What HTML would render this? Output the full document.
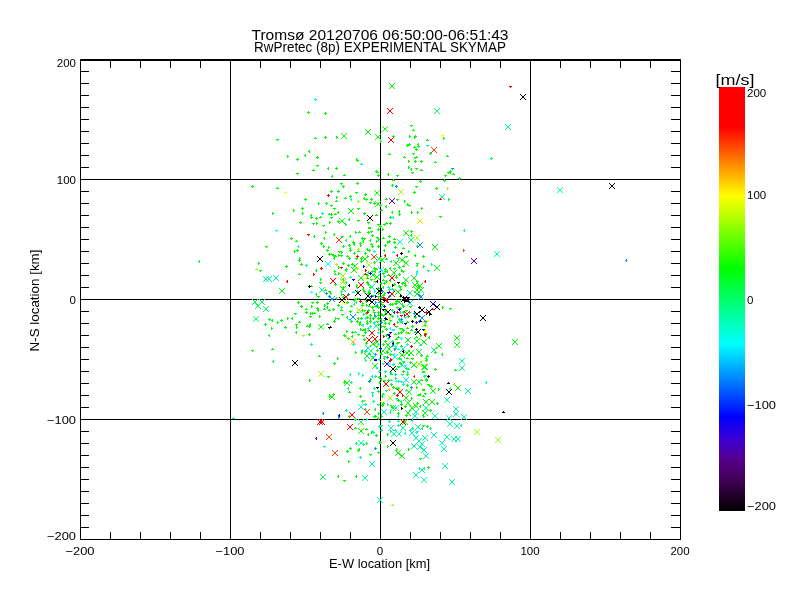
<!DOCTYPE html>
<html><head><meta charset="utf-8"><title>Tromsø skymap</title>
<style>html,body{margin:0;padding:0;background:#fff;width:800px;height:600px;overflow:hidden}svg{display:block}</style>
</head><body>
<svg width="800" height="600" viewBox="0 0 800 600" shape-rendering="crispEdges">
<defs><linearGradient id="cbg" x1="0" y1="0" x2="0" y2="1">
<stop offset="0.0000" stop-color="#ff0000"/>
<stop offset="0.0943" stop-color="#ff0000"/>
<stop offset="0.2571" stop-color="#ffff00"/>
<stop offset="0.4269" stop-color="#00ff00"/>
<stop offset="0.6061" stop-color="#00ffff"/>
<stop offset="0.7783" stop-color="#0000ff"/>
<stop offset="0.8325" stop-color="#3c00d2"/>
<stop offset="0.8797" stop-color="#55008c"/>
<stop offset="0.9269" stop-color="#410055"/>
<stop offset="0.9741" stop-color="#19001e"/>
<stop offset="1.0000" stop-color="#000000"/>
</linearGradient></defs>
<rect x="230" y="61" width="1" height="478"/><rect x="380" y="61" width="1" height="478"/><rect x="530" y="61" width="1" height="478"/><rect x="81" y="179" width="599" height="1"/><rect x="81" y="299" width="599" height="1"/><rect x="81" y="419" width="599" height="1"/>
<g><path fill="#00ff00" d="M308 111h1v1h1v1h-1v1h-1v-1h-1v-1h1zM325 112h1v1h1v1h-1v1h-1v-1h-1v-1h1zM276 139h3v1h-1v1h-1v-1h-1zM315 137h1v1h1v1h-3v-1h1zM325 136h1v1h1v1h-1v1h-1v-1h-1v-1h1zM309 150h1v3h-1v-1h-1v-1h1zM287 155h1v1h1v1h-1v1h-1zM297 158h1v1h1v1h-1v1h-1v-1h-1v-1h1zM305 154h1v3h-1v-1h-1v-1h1zM317 156h1v1h1v1h-1v1h-1v-1h-1v-1h1zM316 165h3v1h-1v1h-1v-1h-1zM313 169h1v1h1v1h-3v-1h1zM328 167h1v3h-1v-1h-1v-1h1zM389 83h1v1h-1zM389 88h1v1h-1zM390 84h1v1h-1zM390 87h1v1h-1zM391 85h1v1h-1zM391 86h1v1h-1zM392 86h1v1h-1zM392 85h1v1h-1zM393 87h1v1h-1zM393 84h1v1h-1zM394 88h1v1h-1zM394 83h1v1h-1zM341 133h1v1h-1zM341 138h1v1h-1zM342 134h1v1h-1zM342 137h1v1h-1zM343 135h1v1h-1zM343 136h1v1h-1zM344 136h1v1h-1zM344 135h1v1h-1zM345 137h1v1h-1zM345 134h1v1h-1zM346 138h1v1h-1zM346 133h1v1h-1zM365 129h1v1h-1zM365 134h1v1h-1zM366 130h1v1h-1zM366 133h1v1h-1zM367 131h1v1h-1zM367 132h1v1h-1zM368 132h1v1h-1zM368 131h1v1h-1zM369 133h1v1h-1zM369 130h1v1h-1zM370 134h1v1h-1zM370 129h1v1h-1zM375 134h1v1h-1zM375 139h1v1h-1zM376 135h1v1h-1zM376 138h1v1h-1zM377 136h1v1h-1zM377 137h1v1h-1zM378 137h1v1h-1zM378 136h1v1h-1zM379 138h1v1h-1zM379 135h1v1h-1zM380 139h1v1h-1zM380 134h1v1h-1zM382 126h1v1h-1zM382 131h1v1h-1zM383 127h1v1h-1zM383 130h1v1h-1zM384 128h1v1h-1zM384 129h1v1h-1zM385 129h1v1h-1zM385 128h1v1h-1zM386 130h1v1h-1zM386 127h1v1h-1zM387 131h1v1h-1zM387 126h1v1h-1zM336 136h1v1h1v1h-1v1h-1zM380 140h1v1h1v1h-1v1h-1zM393 135h1v1h1v1h-1v1h-1v-1h-1v-1h1zM410 125h3v1h-1v1h-1v-1h-1zM413 129h1v1h1v1h-3v-1h1zM409 135h1v1h1v1h-1v1h-1zM415 135h1v1h1v1h-1v1h-1zM414 136h1v1h1v1h-1v1h-1zM443 137h1v1h1v1h-1v1h-1zM427 139h1v1h1v1h-3v-1h1zM407 144h1v1h1v1h-1v1h-1v-1h-1v-1h1zM409 143h1v1h1v1h-1v1h-1v-1h-1v-1h1zM418 143h1v3h-1v-1h-1v-1h1zM414 146h1v1h1v1h-3v-1h1zM416 148h1v1h1v1h-1v1h-1v-1h-1v-1h1zM418 145h1v1h1v1h-1v1h-1v-1h-1v-1h1zM389 153h1v1h1v1h-3v-1h1zM404 156h1v1h1v1h-3v-1h1zM412 153h3v1h-1v1h-1v-1h-1zM414 157h3v1h-1v1h-1v-1h-1zM416 156h1v1h1v1h-3v-1h1zM408 160h1v1h1v1h-1v1h-1zM415 160h1v1h1v1h-1v1h-1v-1h-1v-1h1zM421 160h1v1h1v1h-1v1h-1v-1h-1v-1h1zM430 152h1v1h1v1h-1v1h-1v-1h-1v-1h1zM447 155h1v1h1v1h-3v-1h1zM435 161h1v1h1v1h-3v-1h1zM356 158h1v1h1v1h-1v1h-1zM357 159h1v1h1v1h-1v1h-1v-1h-1v-1h1zM336 167h1v1h1v1h-1v1h-1v-1h-1v-1h1zM376 170h1v1h1v1h-1v1h-1v-1h-1v-1h1zM408 166h1v1h1v1h-1v1h-1zM411 168h1v3h-1v-1h-1v-1h1zM415 168h3v1h-1v1h-1v-1h-1zM421 169h1v1h1v1h-3v-1h1zM450 170h1v1h1v1h-3v-1h1zM296 173h3v1h-1v1h-1v-1h-1zM252 185h1v1h1v1h-1v1h-1v-1h-1v-1h1zM277 187h1v1h1v1h-3v-1h1zM305 198h1v1h1v1h-1v1h-1v-1h-1v-1h1zM318 202h1v1h1v1h-1v1h-1zM326 202h1v1h1v1h-1v1h-1v-1h-1v-1h1zM302 207h1v1h1v1h-1v1h-1v-1h-1v-1h1zM293 209h1v1h1v1h-1v1h-1zM272 212h1v1h1v1h-1v1h-1zM302 212h1v1h1v1h-1v1h-1zM311 214h1v3h-1v-1h-1v-1h1zM311 216h1v1h1v1h-1v1h-1v-1h-1v-1h1zM329 213h1v1h1v1h-3v-1h1zM316 217h1v1h1v1h-1v1h-1v-1h-1v-1h1zM320 216h1v1h1v1h-3v-1h1zM300 221h1v1h1v1h-1v1h-1v-1h-1v-1h1zM312 223h3v1h-1v1h-1v-1h-1zM316 222h1v1h1v1h-1v1h-1zM322 225h3v1h-1v1h-1v-1h-1zM329 221h1v1h1v1h-1v1h-1zM314 235h1v3h-1v-1h-1v-1h1zM325 231h1v1h1v1h-1v1h-1zM291 237h1v1h1v1h-1v1h-1v-1h-1v-1h1zM296 240h1v1h1v1h-3v-1h1zM324 237h1v3h-1v-1h-1v-1h1zM321 242h1v1h1v1h-1v1h-1v-1h-1v-1h1zM323 245h1v1h1v1h-1v1h-1zM328 246h1v1h1v1h-1v1h-1zM265 246h3v1h-1v1h-1v-1h-1zM294 250h1v1h1v1h-1v1h-1zM297 249h1v1h1v1h-1v1h-1v-1h-1v-1h1zM327 249h1v1h1v1h-1v1h-1v-1h-1v-1h1zM329 253h1v1h1v1h-1v1h-1v-1h-1v-1h1zM299 257h1v1h1v1h-1v1h-1zM299 259h1v1h1v1h-1v1h-1v-1h-1v-1h1zM258 262h1v1h1v1h-1v1h-1zM301 263h1v1h1v1h-1v1h-1v-1h-1v-1h1zM286 265h1v1h1v1h-1v1h-1v-1h-1v-1h1zM259 270h3v1h-1v1h-1v-1h-1zM316 269h1v3h-1v-1h-1v-1h1zM299 273h1v1h1v1h-3v-1h1zM320 278h1v1h1v1h-1v1h-1zM319 282h3v1h-1v1h-1v-1h-1zM332 175h1v3h-1v-1h-1v-1h1zM344 174h1v1h1v1h-3v-1h1zM378 174h1v1h1v1h-1v1h-1v-1h-1v-1h1zM377 171h1v1h1v1h-3v-1h1zM388 173h1v3h-1v-1h-1v-1h1zM396 175h3v1h-1v1h-1v-1h-1zM393 179h1v1h1v1h-3v-1h1zM340 183h3v1h-1v1h-1v-1h-1zM343 185h1v1h1v1h-1v1h-1v-1h-1v-1h1zM357 182h1v1h1v1h-1v1h-1v-1h-1v-1h1zM392 184h1v1h1v1h-1v1h-1v-1h-1v-1h1zM331 190h1v1h1v1h-1v1h-1v-1h-1v-1h1zM338 190h1v1h1v1h-1v1h-1v-1h-1v-1h1zM355 192h3v1h-1v1h-1v-1h-1zM374 190h1v1h-1zM374 195h1v1h-1zM375 191h1v1h-1zM375 194h1v1h-1zM376 192h1v1h-1zM376 193h1v1h-1zM377 193h1v1h-1zM377 192h1v1h-1zM378 194h1v1h-1zM378 191h1v1h-1zM379 195h1v1h-1zM379 190h1v1h-1zM365 193h1v1h1v1h-1v1h-1v-1h-1v-1h1zM350 195h1v1h1v1h-1v1h-1v-1h-1v-1h1zM336 196h1v1h1v1h-1v1h-1zM345 197h1v1h1v1h-3v-1h1zM364 197h1v3h-1v-1h-1v-1h1zM366 198h1v1h1v1h-1v1h-1v-1h-1v-1h1zM371 198h1v1h1v1h-1v1h-1v-1h-1v-1h1zM386 198h1v1h1v1h-3v-1h1zM396 199h3v1h-1v1h-1v-1h-1zM404 200h1v1h1v1h-1v1h-1zM336 200h1v1h1v1h-3v-1h1zM369 202h3v1h-1v1h-1v-1h-1zM374 202h1v1h1v1h-1v1h-1v-1h-1v-1h1zM375 201h1v1h-1zM375 206h1v1h-1zM376 202h1v1h-1zM376 205h1v1h-1zM377 203h1v1h-1zM377 204h1v1h-1zM378 204h1v1h-1zM378 203h1v1h-1zM379 205h1v1h-1zM379 202h1v1h-1zM380 206h1v1h-1zM380 201h1v1h-1zM380 204h1v1h1v1h-3v-1h1zM330 205h3v1h-1v1h-1v-1h-1zM333 208h3v1h-1v1h-1v-1h-1zM357 208h3v1h-1v1h-1v-1h-1zM386 205h1v3h-1v-1h-1v-1h1zM381 209h1v1h1v1h-3v-1h1zM348 208h1v1h-1zM348 213h1v1h-1zM349 209h1v1h-1zM349 212h1v1h-1zM350 210h1v1h-1zM350 211h1v1h-1zM351 211h1v1h-1zM351 210h1v1h-1zM352 212h1v1h-1zM352 209h1v1h-1zM353 213h1v1h-1zM353 208h1v1h-1zM338 211h1v3h-1v-1h-1v-1h1zM331 213h1v1h1v1h-1v1h-1zM335 213h1v1h1v1h-3v-1h1zM364 212h1v1h1v1h-1v1h-1v-1h-1v-1h1zM376 214h1v1h1v1h-3v-1h1zM392 211h1v3h-1v-1h-1v-1h1zM399 210h1v3h-1v-1h-1v-1h1zM399 213h1v1h1v1h-1v1h-1v-1h-1v-1h1zM390 216h1v1h1v1h-1v1h-1v-1h-1v-1h1zM330 217h3v1h-1v1h-1v-1h-1zM339 218h1v1h-1zM339 223h1v1h-1zM340 219h1v1h-1zM340 222h1v1h-1zM341 220h1v1h-1zM341 221h1v1h-1zM342 221h1v1h-1zM342 220h1v1h-1zM343 222h1v1h-1zM343 219h1v1h-1zM344 223h1v1h-1zM344 218h1v1h-1zM338 220h1v1h1v1h-1v1h-1v-1h-1v-1h1zM349 218h1v3h-1v-1h-1v-1h1zM357 220h3v1h-1v1h-1v-1h-1zM345 223h1v1h1v1h-1v1h-1zM367 222h3v1h-1v1h-1v-1h-1zM377 224h3v1h-1v1h-1v-1h-1zM383 224h3v1h-1v1h-1v-1h-1zM386 222h1v1h1v1h-3v-1h1zM390 222h1v1h1v1h-1v1h-1v-1h-1v-1h1zM380 225h1v1h1v1h-1v1h-1v-1h-1v-1h1zM368 227h3v1h-1v1h-1v-1h-1zM411 172h3v1h-1v1h-1v-1h-1zM447 172h3v1h-1v1h-1v-1h-1zM450 171h1v3h-1v-1h-1v-1h1zM444 175h3v1h-1v1h-1v-1h-1zM453 173h1v1h1v1h-3v-1h1zM459 177h1v1h1v1h-1v1h-1v-1h-1v-1h1zM444 179h1v1h1v1h-1v1h-1v-1h-1v-1h1zM420 180h1v1h1v1h-1v1h-1v-1h-1v-1h1zM415 186h3v1h-1v1h-1v-1h-1zM436 187h1v1h1v1h-1v1h-1v-1h-1v-1h1zM414 191h1v1h1v1h-1v1h-1v-1h-1v-1h1zM448 198h1v1h1v1h-1v1h-1zM407 203h1v1h1v1h-1v1h-1zM408 205h3v1h-1v1h-1v-1h-1zM421 207h1v1h1v1h-1v1h-1zM411 211h1v1h1v1h-1v1h-1zM417 211h1v1h1v1h-1v1h-1zM439 216h3v1h-1v1h-1v-1h-1zM403 230h1v1h-1zM403 235h1v1h-1zM404 231h1v1h-1zM404 234h1v1h-1zM405 232h1v1h-1zM405 233h1v1h-1zM406 233h1v1h-1zM406 232h1v1h-1zM407 234h1v1h-1zM407 231h1v1h-1zM408 235h1v1h-1zM408 230h1v1h-1zM411 230h1v1h1v1h-1v1h-1v-1h-1v-1h1zM411 234h1v3h-1v-1h-1v-1h1zM417 245h1v1h1v1h-3v-1h1zM432 244h1v1h-1zM432 249h1v1h-1zM433 245h1v1h-1zM433 248h1v1h-1zM434 246h1v1h-1zM434 247h1v1h-1zM435 247h1v1h-1zM435 246h1v1h-1zM436 248h1v1h-1zM436 245h1v1h-1zM437 249h1v1h-1zM437 244h1v1h-1zM408 250h1v1h1v1h-1v1h-1zM405 256h3v1h-1v1h-1v-1h-1zM415 254h1v3h-1v-1h-1v-1h1zM423 255h1v1h1v1h-1v1h-1v-1h-1v-1h1zM403 260h1v1h-1zM403 265h1v1h-1zM404 261h1v1h-1zM404 264h1v1h-1zM405 262h1v1h-1zM405 263h1v1h-1zM406 263h1v1h-1zM406 262h1v1h-1zM407 264h1v1h-1zM407 261h1v1h-1zM408 265h1v1h-1zM408 260h1v1h-1zM416 263h3v1h-1v1h-1v-1h-1zM417 264h1v3h-1v-1h-1v-1h1zM423 265h1v1h1v1h-1v1h-1zM434 265h1v1h-1zM434 270h1v1h-1zM435 266h1v1h-1zM435 269h1v1h-1zM436 267h1v1h-1zM436 268h1v1h-1zM437 268h1v1h-1zM437 267h1v1h-1zM438 269h1v1h-1zM438 266h1v1h-1zM439 270h1v1h-1zM439 265h1v1h-1zM369 227h1v1h1v1h-3v-1h1zM378 228h1v1h1v1h-1v1h-1v-1h-1v-1h1zM382 228h1v1h1v1h-1v1h-1zM334 233h1v3h-1v-1h-1v-1h1zM355 231h1v1h1v1h-1v1h-1zM359 231h1v1h1v1h-3v-1h1zM368 231h1v1h1v1h-1v1h-1v-1h-1v-1h1zM370 231h3v1h-1v1h-1v-1h-1zM372 234h1v1h1v1h-1v1h-1v-1h-1v-1h1zM341 236h3v1h-1v1h-1v-1h-1zM350 235h1v3h-1v-1h-1v-1h1zM362 237h1v1h1v1h-1v1h-1v-1h-1v-1h1zM363 238h3v1h-1v1h-1v-1h-1zM370 239h1v3h-1v-1h-1v-1h1zM376 237h3v1h-1v1h-1v-1h-1zM378 238h1v1h1v1h-1v1h-1zM383 237h1v1h1v1h-3v-1h1zM389 235h1v1h1v1h-1v1h-1v-1h-1v-1h1zM389 240h1v1h1v1h-1v1h-1v-1h-1v-1h1zM394 238h1v1h1v1h-3v-1h1zM387 241h1v1h1v1h-1v1h-1zM394 241h1v1h1v1h-1v1h-1v-1h-1v-1h1zM353 241h1v1h1v1h-1v1h-1v-1h-1v-1h1zM354 243h1v3h-1v-1h-1v-1h1zM360 242h1v1h1v1h-3v-1h1zM360 244h1v1h1v1h-1v1h-1zM363 240h1v3h-1v-1h-1v-1h1zM376 240h1v1h1v1h-1v1h-1zM343 245h1v1h1v1h-1v1h-1v-1h-1v-1h1zM349 244h1v1h1v1h-1v1h-1v-1h-1v-1h1zM371 243h1v1h1v1h-3v-1h1zM372 245h1v1h1v1h-1v1h-1v-1h-1v-1h1zM378 245h1v1h1v1h-1v1h-1v-1h-1v-1h1zM385 244h1v1h1v1h-1v1h-1v-1h-1v-1h1zM395 246h1v1h1v1h-1v1h-1v-1h-1v-1h1zM403 247h1v1h1v1h-3v-1h1zM350 247h1v3h-1v-1h-1v-1h1zM350 249h1v1h1v1h-1v1h-1v-1h-1v-1h1zM358 250h1v1h1v1h-3v-1h1zM367 248h1v3h-1v-1h-1v-1h1zM369 249h1v1h1v1h-1v1h-1v-1h-1v-1h1zM384 249h1v3h-1v-1h-1v-1h1zM338 251h3v1h-1v1h-1v-1h-1zM341 251h1v1h1v1h-1v1h-1zM331 253h1v1h1v1h-3v-1h1zM333 254h1v1h1v1h-1v1h-1v-1h-1v-1h1zM335 255h1v1h1v1h-3v-1h1zM338 254h1v1h1v1h-1v1h-1zM340 255h3v1h-1v1h-1v-1h-1zM334 257h1v3h-1v-1h-1v-1h1zM347 255h1v1h1v1h-3v-1h1zM354 252h1v1h1v1h-1v1h-1v-1h-1v-1h1zM365 252h1v1h1v1h-1v1h-1v-1h-1v-1h1zM367 255h1v1h1v1h-1v1h-1zM349 257h1v1h1v1h-1v1h-1v-1h-1v-1h1zM355 258h3v1h-1v1h-1v-1h-1zM361 257h1v1h1v1h-1v1h-1v-1h-1v-1h1zM362 256h1v1h-1zM362 261h1v1h-1zM363 257h1v1h-1zM363 260h1v1h-1zM364 258h1v1h-1zM364 259h1v1h-1zM365 259h1v1h-1zM365 258h1v1h-1zM366 260h1v1h-1zM366 257h1v1h-1zM367 261h1v1h-1zM367 256h1v1h-1zM379 257h1v1h-1zM379 262h1v1h-1zM380 258h1v1h-1zM380 261h1v1h-1zM381 259h1v1h-1zM381 260h1v1h-1zM382 260h1v1h-1zM382 259h1v1h-1zM383 261h1v1h-1zM383 258h1v1h-1zM384 262h1v1h-1zM384 257h1v1h-1zM386 258h1v1h1v1h-3v-1h1zM393 260h1v1h-1zM393 265h1v1h-1zM394 261h1v1h-1zM394 264h1v1h-1zM395 262h1v1h-1zM395 263h1v1h-1zM396 263h1v1h-1zM396 262h1v1h-1zM397 264h1v1h-1zM397 261h1v1h-1zM398 265h1v1h-1zM398 260h1v1h-1zM399 257h1v1h-1zM399 262h1v1h-1zM400 258h1v1h-1zM400 261h1v1h-1zM401 259h1v1h-1zM401 260h1v1h-1zM402 260h1v1h-1zM402 259h1v1h-1zM403 261h1v1h-1zM403 258h1v1h-1zM404 262h1v1h-1zM404 257h1v1h-1zM361 260h1v3h-1v-1h-1v-1h1zM343 262h1v1h1v1h-1v1h-1v-1h-1v-1h1zM348 264h1v1h1v1h-1v1h-1v-1h-1v-1h1zM352 263h1v3h-1v-1h-1v-1h1zM352 263h1v1h-1zM352 268h1v1h-1zM353 264h1v1h-1zM353 267h1v1h-1zM354 265h1v1h-1zM354 266h1v1h-1zM355 266h1v1h-1zM355 265h1v1h-1zM356 267h1v1h-1zM356 264h1v1h-1zM357 268h1v1h-1zM357 263h1v1h-1zM374 261h1v1h1v1h-1v1h-1v-1h-1v-1h1zM338 266h1v1h1v1h-1v1h-1zM346 268h1v1h1v1h-3v-1h1zM374 267h1v1h1v1h-1v1h-1v-1h-1v-1h1zM376 268h1v1h1v1h-3v-1h1zM385 268h1v1h1v1h-1v1h-1v-1h-1v-1h1zM390 267h1v3h-1v-1h-1v-1h1zM393 268h3v1h-1v1h-1v-1h-1zM399 266h1v1h1v1h-1v1h-1v-1h-1v-1h1zM403 265h1v1h1v1h-3v-1h1zM334 270h1v1h1v1h-1v1h-1zM338 272h1v1h1v1h-1v1h-1zM335 273h1v1h1v1h-3v-1h1zM279 288h1v1h-1zM279 293h1v1h-1zM280 289h1v1h-1zM280 292h1v1h-1zM281 290h1v1h-1zM281 291h1v1h-1zM282 291h1v1h-1zM282 290h1v1h-1zM283 292h1v1h-1zM283 289h1v1h-1zM284 293h1v1h-1zM284 288h1v1h-1zM311 285h1v1h1v1h-3v-1h1zM316 293h1v3h-1v-1h-1v-1h1zM317 296h3v1h-1v1h-1v-1h-1zM325 289h1v1h1v1h-3v-1h1zM328 291h3v1h-1v1h-1v-1h-1zM298 301h1v1h1v1h-1v1h-1v-1h-1v-1h1zM301 305h1v1h1v1h-1v1h-1v-1h-1v-1h1zM311 302h3v1h-1v1h-1v-1h-1zM317 301h1v1h1v1h-1v1h-1v-1h-1v-1h1zM311 305h1v1h1v1h-1v1h-1zM324 304h1v1h1v1h-1v1h-1zM327 302h1v1h1v1h-1v1h-1v-1h-1v-1h1zM306 308h1v1h1v1h-3v-1h1zM306 311h1v1h1v1h-1v1h-1v-1h-1v-1h1zM317 307h1v1h1v1h-1v1h-1v-1h-1v-1h1zM318 309h1v3h-1v-1h-1v-1h1zM324 308h1v1h1v1h-3v-1h1zM327 306h1v3h-1v-1h-1v-1h1zM329 309h1v1h1v1h-3v-1h1zM294 313h3v1h-1v1h-1v-1h-1zM310 312h1v1h1v1h-1v1h-1zM312 312h1v1h1v1h-1v1h-1v-1h-1v-1h1zM314 312h1v1h1v1h-3v-1h1zM309 316h3v1h-1v1h-1v-1h-1zM319 315h1v1h1v1h-1v1h-1zM287 317h1v1h1v1h-1v1h-1zM292 317h1v3h-1v-1h-1v-1h1zM269 318h1v1h1v1h-1v1h-1v-1h-1v-1h1zM272 319h1v3h-1v-1h-1v-1h1zM277 321h1v1h1v1h-1v1h-1zM281 319h1v1h1v1h-1v1h-1v-1h-1v-1h1zM265 323h1v1h1v1h-1v1h-1v-1h-1v-1h1zM271 327h1v1h1v1h-1v1h-1zM285 326h1v1h1v1h-1v1h-1v-1h-1v-1h1zM295 324h3v1h-1v1h-1v-1h-1zM299 321h1v1h1v1h-3v-1h1zM296 326h1v1h1v1h-1v1h-1zM307 325h1v1h1v1h-3v-1h1zM309 325h1v1h1v1h-1v1h-1zM310 323h1v3h-1v-1h-1v-1h1zM318 324h1v1h-1zM318 329h1v1h-1zM319 325h1v1h-1zM319 328h1v1h-1zM320 326h1v1h-1zM320 327h1v1h-1zM321 327h1v1h-1zM321 326h1v1h-1zM322 328h1v1h-1zM322 325h1v1h-1zM323 329h1v1h-1zM323 324h1v1h-1zM327 323h1v1h1v1h-3v-1h1zM296 331h1v3h-1v-1h-1v-1h1zM309 333h1v1h1v1h-1v1h-1v-1h-1v-1h1zM269 334h1v3h-1v-1h-1v-1h1zM251 350h3v1h-1v1h-1v-1h-1zM272 348h1v1h1v1h-3v-1h1zM319 355h1v1h1v1h-3v-1h1zM327 376h3v1h-1v1h-1v-1h-1zM309 379h1v1h1v1h-1v1h-1zM329 395h1v1h1v1h-1v1h-1zM335 283h1v1h1v1h-1v1h-1v-1h-1v-1h1zM330 292h1v1h1v1h-1v1h-1zM336 297h1v3h-1v-1h-1v-1h1zM338 304h1v1h1v1h-1v1h-1v-1h-1v-1h1zM333 308h1v1h1v1h-1v1h-1v-1h-1v-1h1zM335 317h1v1h1v1h-1v1h-1zM337 318h3v1h-1v1h-1v-1h-1zM417 283h1v1h-1zM417 288h1v1h-1zM418 284h1v1h-1zM418 287h1v1h-1zM419 285h1v1h-1zM419 286h1v1h-1zM420 286h1v1h-1zM420 285h1v1h-1zM421 287h1v1h-1zM421 284h1v1h-1zM422 288h1v1h-1zM422 283h1v1h-1zM418 287h1v1h-1zM418 292h1v1h-1zM419 288h1v1h-1zM419 291h1v1h-1zM420 289h1v1h-1zM420 290h1v1h-1zM421 290h1v1h-1zM421 289h1v1h-1zM422 291h1v1h-1zM422 288h1v1h-1zM423 292h1v1h-1zM423 287h1v1h-1zM442 306h1v1h1v1h-1v1h-1zM449 308h3v1h-1v1h-1v-1h-1zM425 324h1v1h1v1h-1v1h-1v-1h-1v-1h1zM424 333h3v1h-1v1h-1v-1h-1zM429 336h1v3h-1v-1h-1v-1h1zM454 335h1v1h-1zM454 340h1v1h-1zM455 336h1v1h-1zM455 339h1v1h-1zM456 337h1v1h-1zM456 338h1v1h-1zM457 338h1v1h-1zM457 337h1v1h-1zM458 339h1v1h-1zM458 336h1v1h-1zM459 340h1v1h-1zM459 335h1v1h-1zM454 342h1v1h-1zM454 347h1v1h-1zM455 343h1v1h-1zM455 346h1v1h-1zM456 344h1v1h-1zM456 345h1v1h-1zM457 345h1v1h-1zM457 344h1v1h-1zM458 346h1v1h-1zM458 343h1v1h-1zM459 347h1v1h-1zM459 342h1v1h-1zM512 339h1v1h-1zM512 344h1v1h-1zM513 340h1v1h-1zM513 343h1v1h-1zM514 341h1v1h-1zM514 342h1v1h-1zM515 342h1v1h-1zM515 341h1v1h-1zM516 343h1v1h-1zM516 340h1v1h-1zM517 344h1v1h-1zM517 339h1v1h-1zM421 339h1v1h-1zM421 344h1v1h-1zM422 340h1v1h-1zM422 343h1v1h-1zM423 341h1v1h-1zM423 342h1v1h-1zM424 342h1v1h-1zM424 341h1v1h-1zM425 343h1v1h-1zM425 340h1v1h-1zM426 344h1v1h-1zM426 339h1v1h-1zM436 343h1v1h-1zM436 348h1v1h-1zM437 344h1v1h-1zM437 347h1v1h-1zM438 345h1v1h-1zM438 346h1v1h-1zM439 346h1v1h-1zM439 345h1v1h-1zM440 347h1v1h-1zM440 344h1v1h-1zM441 348h1v1h-1zM441 343h1v1h-1zM435 351h1v1h1v1h-1v1h-1v-1h-1v-1h1zM442 353h1v3h-1v-1h-1v-1h1zM420 355h3v1h-1v1h-1v-1h-1zM426 357h1v3h-1v-1h-1v-1h1zM426 359h1v1h1v1h-1v1h-1v-1h-1v-1h1zM421 364h1v1h-1zM421 369h1v1h-1zM422 365h1v1h-1zM422 368h1v1h-1zM423 366h1v1h-1zM423 367h1v1h-1zM424 367h1v1h-1zM424 366h1v1h-1zM425 368h1v1h-1zM425 365h1v1h-1zM426 369h1v1h-1zM426 364h1v1h-1zM435 368h1v1h1v1h-1v1h-1v-1h-1v-1h1zM455 369h1v1h1v1h-3v-1h1zM422 371h3v1h-1v1h-1v-1h-1zM421 379h1v1h1v1h-3v-1h1zM425 380h3v1h-1v1h-1v-1h-1zM455 385h1v1h-1zM455 390h1v1h-1zM456 386h1v1h-1zM456 389h1v1h-1zM457 387h1v1h-1zM457 388h1v1h-1zM458 388h1v1h-1zM458 387h1v1h-1zM459 389h1v1h-1zM459 386h1v1h-1zM460 390h1v1h-1zM460 385h1v1h-1zM429 384h1v3h-1v-1h-1v-1h1zM431 385h1v1h1v1h-1v1h-1v-1h-1v-1h1zM438 388h1v1h1v1h-1v1h-1zM430 388h1v1h-1zM430 393h1v1h-1zM431 389h1v1h-1zM431 392h1v1h-1zM432 390h1v1h-1zM432 391h1v1h-1zM433 391h1v1h-1zM433 390h1v1h-1zM434 392h1v1h-1zM434 389h1v1h-1zM435 393h1v1h-1zM435 388h1v1h-1zM423 389h1v1h1v1h-3v-1h1zM424 393h3v1h-1v1h-1v-1h-1zM334 320h1v1h1v1h-1v1h-1v-1h-1v-1h1zM346 330h1v1h1v1h-1v1h-1zM352 331h1v1h1v1h-1v1h-1v-1h-1v-1h1zM352 335h1v3h-1v-1h-1v-1h1zM344 334h1v1h1v1h-1v1h-1v-1h-1v-1h1zM347 338h3v1h-1v1h-1v-1h-1zM357 334h3v1h-1v1h-1v-1h-1zM363 329h1v1h1v1h-3v-1h1zM365 331h1v1h1v1h-1v1h-1v-1h-1v-1h1zM362 335h3v1h-1v1h-1v-1h-1zM364 338h1v1h1v1h-1v1h-1v-1h-1v-1h1zM364 351h3v1h-1v1h-1v-1h-1zM361 351h1v1h1v1h-1v1h-1zM355 351h1v1h1v1h-1v1h-1zM403 329h1v1h1v1h-1v1h-1v-1h-1v-1h1zM411 329h1v1h1v1h-3v-1h1zM382 330h1v1h1v1h-1v1h-1zM395 333h1v1h1v1h-3v-1h1zM398 332h1v1h1v1h-1v1h-1zM401 331h1v1h1v1h-1v1h-1v-1h-1v-1h1zM408 332h1v1h1v1h-3v-1h1zM415 331h1v1h1v1h-3v-1h1zM386 334h1v1h1v1h-1v1h-1v-1h-1v-1h1zM398 336h1v1h1v1h-3v-1h1zM405 337h1v1h-1zM405 342h1v1h-1zM406 338h1v1h-1zM406 341h1v1h-1zM407 339h1v1h-1zM407 340h1v1h-1zM408 340h1v1h-1zM408 339h1v1h-1zM409 341h1v1h-1zM409 338h1v1h-1zM410 342h1v1h-1zM410 337h1v1h-1zM416 336h1v1h1v1h-3v-1h1zM420 334h1v1h1v1h-1v1h-1zM429 336h1v3h-1v-1h-1v-1h1zM414 338h1v1h-1zM414 343h1v1h-1zM415 339h1v1h-1zM415 342h1v1h-1zM416 340h1v1h-1zM416 341h1v1h-1zM417 341h1v1h-1zM417 340h1v1h-1zM418 342h1v1h-1zM418 339h1v1h-1zM419 343h1v1h-1zM419 338h1v1h-1zM421 339h1v1h-1zM421 344h1v1h-1zM422 340h1v1h-1zM422 343h1v1h-1zM423 341h1v1h-1zM423 342h1v1h-1zM424 342h1v1h-1zM424 341h1v1h-1zM425 343h1v1h-1zM425 340h1v1h-1zM426 344h1v1h-1zM426 339h1v1h-1zM397 342h3v1h-1v1h-1v-1h-1zM401 345h1v1h1v1h-3v-1h1zM404 350h1v1h-1zM404 355h1v1h-1zM405 351h1v1h-1zM405 354h1v1h-1zM406 352h1v1h-1zM406 353h1v1h-1zM407 353h1v1h-1zM407 352h1v1h-1zM408 354h1v1h-1zM408 351h1v1h-1zM409 355h1v1h-1zM409 350h1v1h-1zM408 350h1v1h-1zM408 355h1v1h-1zM409 351h1v1h-1zM409 354h1v1h-1zM410 352h1v1h-1zM410 353h1v1h-1zM411 353h1v1h-1zM411 352h1v1h-1zM412 354h1v1h-1zM412 351h1v1h-1zM413 355h1v1h-1zM413 350h1v1h-1zM416 349h1v1h-1zM416 354h1v1h-1zM417 350h1v1h-1zM417 353h1v1h-1zM418 351h1v1h-1zM418 352h1v1h-1zM419 352h1v1h-1zM419 351h1v1h-1zM420 353h1v1h-1zM420 350h1v1h-1zM421 354h1v1h-1zM421 349h1v1h-1zM399 352h1v1h-1zM399 357h1v1h-1zM400 353h1v1h-1zM400 356h1v1h-1zM401 354h1v1h-1zM401 355h1v1h-1zM402 355h1v1h-1zM402 354h1v1h-1zM403 356h1v1h-1zM403 353h1v1h-1zM404 357h1v1h-1zM404 352h1v1h-1zM427 355h1v1h1v1h-3v-1h1zM337 357h1v1h1v1h-1v1h-1zM334 362h1v1h1v1h-1v1h-1v-1h-1v-1h1zM372 363h1v1h-1zM372 368h1v1h-1zM373 364h1v1h-1zM373 367h1v1h-1zM374 365h1v1h-1zM374 366h1v1h-1zM375 366h1v1h-1zM375 365h1v1h-1zM376 367h1v1h-1zM376 364h1v1h-1zM377 368h1v1h-1zM377 363h1v1h-1zM370 378h1v1h1v1h-1v1h-1zM379 376h1v1h1v1h-1v1h-1v-1h-1v-1h1zM379 381h1v1h1v1h-1v1h-1zM344 380h1v1h-1zM344 385h1v1h-1zM345 381h1v1h-1zM345 384h1v1h-1zM346 382h1v1h-1zM346 383h1v1h-1zM347 383h1v1h-1zM347 382h1v1h-1zM348 384h1v1h-1zM348 381h1v1h-1zM349 385h1v1h-1zM349 380h1v1h-1zM344 381h1v1h1v1h-1v1h-1v-1h-1v-1h1zM360 387h1v3h-1v-1h-1v-1h1zM349 391h1v1h1v1h-3v-1h1zM378 390h1v1h1v1h-1v1h-1v-1h-1v-1h1zM333 393h1v1h1v1h-1v1h-1v-1h-1v-1h1zM399 357h1v1h1v1h-1v1h-1v-1h-1v-1h1zM402 361h3v1h-1v1h-1v-1h-1zM407 357h1v1h1v1h-3v-1h1zM411 358h3v1h-1v1h-1v-1h-1zM426 358h1v1h1v1h-1v1h-1zM400 362h1v1h1v1h-1v1h-1v-1h-1v-1h1zM397 366h3v1h-1v1h-1v-1h-1zM408 368h1v1h1v1h-3v-1h1zM410 361h1v3h-1v-1h-1v-1h1zM411 362h1v1h-1zM411 367h1v1h-1zM412 363h1v1h-1zM412 366h1v1h-1zM413 364h1v1h-1zM413 365h1v1h-1zM414 365h1v1h-1zM414 364h1v1h-1zM415 366h1v1h-1zM415 363h1v1h-1zM416 367h1v1h-1zM416 362h1v1h-1zM422 364h1v1h-1zM422 369h1v1h-1zM423 365h1v1h-1zM423 368h1v1h-1zM424 366h1v1h-1zM424 367h1v1h-1zM425 367h1v1h-1zM425 366h1v1h-1zM426 368h1v1h-1zM426 365h1v1h-1zM427 369h1v1h-1zM427 364h1v1h-1zM423 371h1v1h1v1h-3v-1h1zM396 368h1v1h1v1h-3v-1h1zM403 370h1v1h1v1h-1v1h-1v-1h-1v-1h1zM391 373h1v1h1v1h-3v-1h1zM407 373h1v1h1v1h-1v1h-1v-1h-1v-1h1zM385 375h1v1h1v1h-1v1h-1zM395 377h1v1h1v1h-1v1h-1zM411 379h1v1h-1zM411 384h1v1h-1zM412 380h1v1h-1zM412 383h1v1h-1zM413 381h1v1h-1zM413 382h1v1h-1zM414 382h1v1h-1zM414 381h1v1h-1zM415 383h1v1h-1zM415 380h1v1h-1zM416 384h1v1h-1zM416 379h1v1h-1zM416 379h1v1h-1zM416 384h1v1h-1zM417 380h1v1h-1zM417 383h1v1h-1zM418 381h1v1h-1zM418 382h1v1h-1zM419 382h1v1h-1zM419 381h1v1h-1zM420 383h1v1h-1zM420 380h1v1h-1zM421 384h1v1h-1zM421 379h1v1h-1zM381 378h1v3h-1v-1h-1v-1h1zM383 380h3v1h-1v1h-1v-1h-1zM388 379h1v1h1v1h-1v1h-1v-1h-1v-1h1zM426 378h1v1h1v1h-1v1h-1v-1h-1v-1h1zM391 383h1v1h1v1h-1v1h-1v-1h-1v-1h1zM407 384h1v1h1v1h-1v1h-1v-1h-1v-1h1zM416 386h1v1h1v1h-1v1h-1zM427 384h3v1h-1v1h-1v-1h-1zM393 386h1v1h1v1h-1v1h-1v-1h-1v-1h1zM396 387h1v3h-1v-1h-1v-1h1zM398 387h1v1h1v1h-1v1h-1v-1h-1v-1h1zM406 389h1v1h-1zM406 394h1v1h-1zM407 390h1v1h-1zM407 393h1v1h-1zM408 391h1v1h-1zM408 392h1v1h-1zM409 392h1v1h-1zM409 391h1v1h-1zM410 393h1v1h-1zM410 390h1v1h-1zM411 394h1v1h-1zM411 389h1v1h-1zM422 389h3v1h-1v1h-1v-1h-1zM394 392h1v1h1v1h-1v1h-1v-1h-1v-1h1zM420 393h1v3h-1v-1h-1v-1h1zM424 393h3v1h-1v1h-1v-1h-1zM383 393h1v1h1v1h-3v-1h1zM329 394h1v1h-1zM329 399h1v1h-1zM330 395h1v1h-1zM330 398h1v1h-1zM331 396h1v1h-1zM331 397h1v1h-1zM332 397h1v1h-1zM332 396h1v1h-1zM333 398h1v1h-1zM333 395h1v1h-1zM334 399h1v1h-1zM334 394h1v1h-1zM360 395h1v1h1v1h-1v1h-1v-1h-1v-1h1zM375 408h1v3h-1v-1h-1v-1h1zM349 415h1v1h1v1h-3v-1h1zM355 418h1v1h1v1h-1v1h-1v-1h-1v-1h1zM374 415h1v3h-1v-1h-1v-1h1zM375 415h1v1h1v1h-1v1h-1zM378 417h1v3h-1v-1h-1v-1h1zM378 412h1v1h1v1h-1v1h-1zM355 427h1v1h1v1h-3v-1h1zM366 428h1v1h1v1h-3v-1h1zM358 428h1v1h-1zM358 433h1v1h-1zM359 429h1v1h-1zM359 432h1v1h-1zM360 430h1v1h-1zM360 431h1v1h-1zM361 431h1v1h-1zM361 430h1v1h-1zM362 432h1v1h-1zM362 429h1v1h-1zM363 433h1v1h-1zM363 428h1v1h-1zM382 395h1v3h-1v-1h-1v-1h1zM398 399h1v1h1v1h-1v1h-1v-1h-1v-1h1zM403 395h1v1h-1zM403 400h1v1h-1zM404 396h1v1h-1zM404 399h1v1h-1zM405 397h1v1h-1zM405 398h1v1h-1zM406 398h1v1h-1zM406 397h1v1h-1zM407 399h1v1h-1zM407 396h1v1h-1zM408 400h1v1h-1zM408 395h1v1h-1zM411 397h1v1h1v1h-1v1h-1zM418 394h1v1h1v1h-3v-1h1zM423 395h1v1h1v1h-3v-1h1zM383 402h1v1h1v1h-1v1h-1v-1h-1v-1h1zM382 404h1v1h1v1h-1v1h-1v-1h-1v-1h1zM405 400h1v1h-1zM405 405h1v1h-1zM406 401h1v1h-1zM406 404h1v1h-1zM407 402h1v1h-1zM407 403h1v1h-1zM408 403h1v1h-1zM408 402h1v1h-1zM409 404h1v1h-1zM409 401h1v1h-1zM410 405h1v1h-1zM410 400h1v1h-1zM423 399h1v1h-1zM423 404h1v1h-1zM424 400h1v1h-1zM424 403h1v1h-1zM425 401h1v1h-1zM425 402h1v1h-1zM426 402h1v1h-1zM426 401h1v1h-1zM427 403h1v1h-1zM427 400h1v1h-1zM428 404h1v1h-1zM428 399h1v1h-1zM417 402h1v3h-1v-1h-1v-1h1zM390 405h1v1h-1zM390 410h1v1h-1zM391 406h1v1h-1zM391 409h1v1h-1zM392 407h1v1h-1zM392 408h1v1h-1zM393 408h1v1h-1zM393 407h1v1h-1zM394 409h1v1h-1zM394 406h1v1h-1zM395 410h1v1h-1zM395 405h1v1h-1zM391 405h1v1h1v1h-1v1h-1zM401 403h1v1h1v1h-1v1h-1v-1h-1v-1h1zM405 405h1v1h1v1h-1v1h-1v-1h-1v-1h1zM409 405h1v1h-1zM409 410h1v1h-1zM410 406h1v1h-1zM410 409h1v1h-1zM411 407h1v1h-1zM411 408h1v1h-1zM412 408h1v1h-1zM412 407h1v1h-1zM413 409h1v1h-1zM413 406h1v1h-1zM414 410h1v1h-1zM414 405h1v1h-1zM413 403h1v1h-1zM413 408h1v1h-1zM414 404h1v1h-1zM414 407h1v1h-1zM415 405h1v1h-1zM415 406h1v1h-1zM416 406h1v1h-1zM416 405h1v1h-1zM417 407h1v1h-1zM417 404h1v1h-1zM418 408h1v1h-1zM418 403h1v1h-1zM420 405h1v3h-1v-1h-1v-1h1zM398 412h1v1h1v1h-1v1h-1v-1h-1v-1h1zM405 410h1v1h-1zM405 415h1v1h-1zM406 411h1v1h-1zM406 414h1v1h-1zM407 412h1v1h-1zM407 413h1v1h-1zM408 413h1v1h-1zM408 412h1v1h-1zM409 414h1v1h-1zM409 411h1v1h-1zM410 415h1v1h-1zM410 410h1v1h-1zM422 410h1v1h-1zM422 415h1v1h-1zM423 411h1v1h-1zM423 414h1v1h-1zM424 412h1v1h-1zM424 413h1v1h-1zM425 413h1v1h-1zM425 412h1v1h-1zM426 414h1v1h-1zM426 411h1v1h-1zM427 415h1v1h-1zM427 410h1v1h-1zM381 415h1v1h1v1h-1v1h-1zM406 414h1v1h1v1h-1v1h-1zM423 415h1v1h1v1h-1v1h-1zM402 419h1v1h-1zM402 424h1v1h-1zM403 420h1v1h-1zM403 423h1v1h-1zM404 421h1v1h-1zM404 422h1v1h-1zM405 422h1v1h-1zM405 421h1v1h-1zM406 423h1v1h-1zM406 420h1v1h-1zM407 424h1v1h-1zM407 419h1v1h-1zM422 425h3v1h-1v1h-1v-1h-1zM427 425h1v1h1v1h-1v1h-1v-1h-1v-1h1zM429 399h1v1h-1zM429 404h1v1h-1zM430 400h1v1h-1zM430 403h1v1h-1zM431 401h1v1h-1zM431 402h1v1h-1zM432 402h1v1h-1zM432 401h1v1h-1zM433 403h1v1h-1zM433 400h1v1h-1zM434 404h1v1h-1zM434 399h1v1h-1zM437 402h1v1h1v1h-1v1h-1v-1h-1v-1h1zM430 409h1v1h1v1h-1v1h-1v-1h-1v-1h1zM368 433h1v3h-1v-1h-1v-1h1zM371 431h1v1h1v1h-1v1h-1zM376 434h1v1h1v1h-1v1h-1v-1h-1v-1h1zM366 442h1v1h1v1h-1v1h-1zM379 441h1v1h1v1h-1v1h-1zM350 447h1v1h1v1h-1v1h-1v-1h-1v-1h1zM347 450h1v1h1v1h-1v1h-1v-1h-1v-1h1zM359 448h1v3h-1v-1h-1v-1h1zM358 449h1v3h-1v-1h-1v-1h1zM377 452h3v1h-1v1h-1v-1h-1zM369 454h3v1h-1v1h-1v-1h-1zM348 460h1v1h1v1h-1v1h-1zM387 433h1v1h1v1h-1v1h-1zM380 441h1v1h1v1h-1v1h-1v-1h-1v-1h1zM387 445h1v1h1v1h-1v1h-1zM408 448h1v1h1v1h-1v1h-1zM396 448h1v1h1v1h-1v1h-1zM395 450h1v1h-1zM395 455h1v1h-1zM396 451h1v1h-1zM396 454h1v1h-1zM397 452h1v1h-1zM397 453h1v1h-1zM398 453h1v1h-1zM398 452h1v1h-1zM399 454h1v1h-1zM399 451h1v1h-1zM400 455h1v1h-1zM400 450h1v1h-1zM399 453h1v1h-1zM399 458h1v1h-1zM400 454h1v1h-1zM400 457h1v1h-1zM401 455h1v1h-1zM401 456h1v1h-1zM402 456h1v1h-1zM402 455h1v1h-1zM403 457h1v1h-1zM403 454h1v1h-1zM404 458h1v1h-1zM404 453h1v1h-1zM419 458h3v1h-1v1h-1v-1h-1zM428 466h1v1h1v1h-1v1h-1v-1h-1v-1h1zM338 475h1v3h-1v-1h-1v-1h1zM343 480h3v1h-1v1h-1v-1h-1zM356 475h1v3h-1v-1h-1v-1h1zM346 269h1v3h-1v-1h-1v-1h1zM351 267h1v1h-1zM351 272h1v1h-1zM352 268h1v1h-1zM352 271h1v1h-1zM353 269h1v1h-1zM353 270h1v1h-1zM354 270h1v1h-1zM354 269h1v1h-1zM355 271h1v1h-1zM355 268h1v1h-1zM356 272h1v1h-1zM356 267h1v1h-1zM343 278h1v3h-1v-1h-1v-1h1zM346 281h1v3h-1v-1h-1v-1h1zM358 275h1v1h-1zM358 280h1v1h-1zM359 276h1v1h-1zM359 279h1v1h-1zM360 277h1v1h-1zM360 278h1v1h-1zM361 278h1v1h-1zM361 277h1v1h-1zM362 279h1v1h-1zM362 276h1v1h-1zM363 280h1v1h-1zM363 275h1v1h-1zM367 274h1v1h1v1h-1v1h-1v-1h-1v-1h1zM372 270h1v1h1v1h-1v1h-1v-1h-1v-1h1zM375 270h1v3h-1v-1h-1v-1h1zM368 271h1v3h-1v-1h-1v-1h1zM370 272h1v1h-1zM370 277h1v1h-1zM371 273h1v1h-1zM371 276h1v1h-1zM372 274h1v1h-1zM372 275h1v1h-1zM373 275h1v1h-1zM373 274h1v1h-1zM374 276h1v1h-1zM374 273h1v1h-1zM375 277h1v1h-1zM375 272h1v1h-1zM374 274h1v1h-1zM374 279h1v1h-1zM375 275h1v1h-1zM375 278h1v1h-1zM376 276h1v1h-1zM376 277h1v1h-1zM377 277h1v1h-1zM377 276h1v1h-1zM378 278h1v1h-1zM378 275h1v1h-1zM379 279h1v1h-1zM379 274h1v1h-1zM367 277h1v1h1v1h-3v-1h1zM370 279h3v1h-1v1h-1v-1h-1zM374 281h3v1h-1v1h-1v-1h-1zM367 281h1v1h1v1h-1v1h-1v-1h-1v-1h1zM368 283h1v3h-1v-1h-1v-1h1zM356 284h1v1h1v1h-1v1h-1zM343 286h1v1h1v1h-1v1h-1v-1h-1v-1h1zM340 286h1v1h-1zM340 291h1v1h-1zM341 287h1v1h-1zM341 290h1v1h-1zM342 288h1v1h-1zM342 289h1v1h-1zM343 289h1v1h-1zM343 288h1v1h-1zM344 290h1v1h-1zM344 287h1v1h-1zM345 291h1v1h-1zM345 286h1v1h-1zM356 287h3v1h-1v1h-1v-1h-1zM363 288h1v3h-1v-1h-1v-1h1zM364 290h1v1h1v1h-1v1h-1v-1h-1v-1h1zM370 286h1v1h1v1h-3v-1h1zM369 290h1v1h1v1h-1v1h-1v-1h-1v-1h1zM368 292h1v1h1v1h-1v1h-1v-1h-1v-1h1zM378 287h1v1h1v1h-1v1h-1v-1h-1v-1h1zM341 293h1v1h1v1h-1v1h-1zM343 296h1v3h-1v-1h-1v-1h1zM372 295h3v1h-1v1h-1v-1h-1zM377 296h3v1h-1v1h-1v-1h-1zM378 292h1v1h1v1h-1v1h-1zM355 298h1v1h1v1h-1v1h-1v-1h-1v-1h1zM357 298h3v1h-1v1h-1v-1h-1zM370 298h1v1h1v1h-3v-1h1zM366 298h1v1h1v1h-1v1h-1zM347 301h1v1h1v1h-1v1h-1v-1h-1v-1h1zM354 299h1v1h1v1h-1v1h-1v-1h-1v-1h1zM362 302h1v1h1v1h-1v1h-1zM362 304h1v1h1v1h-1v1h-1v-1h-1v-1h1zM366 300h1v1h1v1h-1v1h-1v-1h-1v-1h1zM366 304h1v1h1v1h-1v1h-1zM369 305h1v1h1v1h-3v-1h1zM372 306h1v1h1v1h-1v1h-1v-1h-1v-1h1zM375 305h1v1h1v1h-3v-1h1zM378 306h1v1h1v1h-1v1h-1v-1h-1v-1h1zM351 305h1v1h1v1h-3v-1h1zM341 309h1v1h1v1h-3v-1h1zM350 310h1v1h1v1h-1v1h-1v-1h-1v-1h1zM357 311h1v1h1v1h-3v-1h1zM362 309h1v1h1v1h-1v1h-1v-1h-1v-1h1zM363 310h3v1h-1v1h-1v-1h-1zM368 309h1v1h1v1h-1v1h-1v-1h-1v-1h1zM373 309h1v1h1v1h-1v1h-1zM373 312h3v1h-1v1h-1v-1h-1zM378 311h1v1h1v1h-1v1h-1v-1h-1v-1h1zM341 314h3v1h-1v1h-1v-1h-1zM366 312h1v1h1v1h-1v1h-1v-1h-1v-1h1zM370 314h1v1h1v1h-1v1h-1v-1h-1v-1h1zM378 314h1v1h1v1h-3v-1h1zM347 316h1v3h-1v-1h-1v-1h1zM351 320h1v1h1v1h-1v1h-1v-1h-1v-1h1zM358 317h1v3h-1v-1h-1v-1h1zM361 317h1v1h1v1h-1v1h-1v-1h-1v-1h1zM367 316h1v1h1v1h-1v1h-1v-1h-1v-1h1zM370 317h1v3h-1v-1h-1v-1h1zM373 317h1v1h1v1h-1v1h-1v-1h-1v-1h1zM375 315h1v1h1v1h-1v1h-1v-1h-1v-1h1zM378 317h1v1h1v1h-1v1h-1v-1h-1v-1h1zM357 320h1v1h1v1h-1v1h-1v-1h-1v-1h1zM360 321h1v3h-1v-1h-1v-1h1zM367 320h1v3h-1v-1h-1v-1h1zM370 320h1v1h1v1h-1v1h-1v-1h-1v-1h1zM376 321h3v1h-1v1h-1v-1h-1zM359 323h1v1h1v1h-1v1h-1zM362 324h1v1h1v1h-3v-1h1zM367 322h1v1h1v1h-1v1h-1v-1h-1v-1h1zM378 323h1v1h1v1h-1v1h-1v-1h-1v-1h1zM360 328h1v1h1v1h-1v1h-1zM365 328h1v3h-1v-1h-1v-1h1zM378 328h1v1h1v1h-1v1h-1zM381 301h1v1h1v1h-1v1h-1zM381 304h3v1h-1v1h-1v-1h-1zM390 303h1v3h-1v-1h-1v-1h1zM392 303h1v1h1v1h-1v1h-1v-1h-1v-1h1zM394 303h3v1h-1v1h-1v-1h-1zM396 300h1v1h1v1h-1v1h-1v-1h-1v-1h1zM396 299h1v1h-1zM396 304h1v1h-1zM397 300h1v1h-1zM397 303h1v1h-1zM398 301h1v1h-1zM398 302h1v1h-1zM399 302h1v1h-1zM399 301h1v1h-1zM400 303h1v1h-1zM400 300h1v1h-1zM401 304h1v1h-1zM401 299h1v1h-1zM402 303h1v3h-1v-1h-1v-1h1zM403 305h1v1h1v1h-1v1h-1v-1h-1v-1h1zM396 307h3v1h-1v1h-1v-1h-1zM400 307h1v1h1v1h-1v1h-1v-1h-1v-1h1zM409 306h3v1h-1v1h-1v-1h-1zM381 306h1v3h-1v-1h-1v-1h1zM385 310h1v1h1v1h-1v1h-1v-1h-1v-1h1zM403 311h1v1h1v1h-1v1h-1v-1h-1v-1h1zM405 310h3v1h-1v1h-1v-1h-1zM409 311h1v1h1v1h-1v1h-1v-1h-1v-1h1zM381 313h1v1h1v1h-1v1h-1zM382 315h3v1h-1v1h-1v-1h-1zM385 313h1v1h1v1h-3v-1h1zM389 314h3v1h-1v1h-1v-1h-1zM392 315h1v1h1v1h-1v1h-1v-1h-1v-1h1zM381 318h1v3h-1v-1h-1v-1h1zM383 320h3v1h-1v1h-1v-1h-1zM389 320h3v1h-1v1h-1v-1h-1zM399 318h1v3h-1v-1h-1v-1h1zM408 315h1v3h-1v-1h-1v-1h1zM415 316h1v1h1v1h-1v1h-1v-1h-1v-1h1zM385 322h1v1h1v1h-1v1h-1v-1h-1v-1h1zM389 322h1v3h-1v-1h-1v-1h1zM397 321h1v1h1v1h-1v1h-1zM402 321h1v3h-1v-1h-1v-1h1zM407 321h1v1h1v1h-3v-1h1zM412 325h1v1h1v1h-1v1h-1v-1h-1v-1h1zM407 327h1v1h1v1h-3v-1h1zM381 325h1v1h1v1h-1v1h-1zM383 326h3v1h-1v1h-1v-1h-1zM395 326h3v1h-1v1h-1v-1h-1zM386 328h1v1h1v1h-1v1h-1v-1h-1v-1h1zM399 328h3v1h-1v1h-1v-1h-1zM402 328h1v1h1v1h-1v1h-1zM384 271h3v1h-1v1h-1v-1h-1zM387 270h1v3h-1v-1h-1v-1h1zM382 273h3v1h-1v1h-1v-1h-1zM391 270h1v1h-1zM391 275h1v1h-1zM392 271h1v1h-1zM392 274h1v1h-1zM393 272h1v1h-1zM393 273h1v1h-1zM394 273h1v1h-1zM394 272h1v1h-1zM395 274h1v1h-1zM395 271h1v1h-1zM396 275h1v1h-1zM396 270h1v1h-1zM399 273h1v1h1v1h-1v1h-1v-1h-1v-1h1zM401 269h1v1h1v1h-1v1h-1zM402 271h3v1h-1v1h-1v-1h-1zM388 274h1v1h1v1h-3v-1h1zM396 276h1v1h1v1h-1v1h-1v-1h-1v-1h1zM383 279h1v1h1v1h-3v-1h1zM386 280h1v1h1v1h-1v1h-1v-1h-1v-1h1zM390 279h1v3h-1v-1h-1v-1h1zM403 277h1v1h-1zM403 282h1v1h-1zM404 278h1v1h-1zM404 281h1v1h-1zM405 279h1v1h-1zM405 280h1v1h-1zM406 280h1v1h-1zM406 279h1v1h-1zM407 281h1v1h-1zM407 278h1v1h-1zM408 282h1v1h-1zM408 277h1v1h-1zM411 275h1v1h-1zM411 280h1v1h-1zM412 276h1v1h-1zM412 279h1v1h-1zM413 277h1v1h-1zM413 278h1v1h-1zM414 278h1v1h-1zM414 277h1v1h-1zM415 279h1v1h-1zM415 276h1v1h-1zM416 280h1v1h-1zM416 275h1v1h-1zM416 281h3v1h-1v1h-1v-1h-1zM402 282h1v1h1v1h-1v1h-1v-1h-1v-1h1zM405 282h1v3h-1v-1h-1v-1h1zM381 282h1v3h-1v-1h-1v-1h1zM384 282h1v1h1v1h-1v1h-1v-1h-1v-1h1zM394 283h1v1h1v1h-1v1h-1v-1h-1v-1h1zM399 286h3v1h-1v1h-1v-1h-1zM399 285h1v1h1v1h-1v1h-1v-1h-1v-1h1zM405 284h1v1h1v1h-1v1h-1v-1h-1v-1h1zM412 282h1v1h-1zM412 287h1v1h-1zM413 283h1v1h-1zM413 286h1v1h-1zM414 284h1v1h-1zM414 285h1v1h-1zM415 285h1v1h-1zM415 284h1v1h-1zM416 286h1v1h-1zM416 283h1v1h-1zM417 287h1v1h-1zM417 282h1v1h-1zM418 284h1v1h1v1h-1v1h-1v-1h-1v-1h1zM383 286h1v3h-1v-1h-1v-1h1zM400 288h1v1h1v1h-1v1h-1zM395 289h1v1h-1zM395 294h1v1h-1zM396 290h1v1h-1zM396 293h1v1h-1zM397 291h1v1h-1zM397 292h1v1h-1zM398 292h1v1h-1zM398 291h1v1h-1zM399 293h1v1h-1zM399 290h1v1h-1zM400 294h1v1h-1zM400 289h1v1h-1zM414 287h1v1h-1zM414 292h1v1h-1zM415 288h1v1h-1zM415 291h1v1h-1zM416 289h1v1h-1zM416 290h1v1h-1zM417 290h1v1h-1zM417 289h1v1h-1zM418 291h1v1h-1zM418 288h1v1h-1zM419 292h1v1h-1zM419 287h1v1h-1zM384 292h1v1h1v1h-1v1h-1zM414 291h1v1h-1zM414 296h1v1h-1zM415 292h1v1h-1zM415 295h1v1h-1zM416 293h1v1h-1zM416 294h1v1h-1zM417 294h1v1h-1zM417 293h1v1h-1zM418 295h1v1h-1zM418 292h1v1h-1zM419 296h1v1h-1zM419 291h1v1h-1zM383 294h1v1h1v1h-1v1h-1v-1h-1v-1h1zM381 296h1v1h1v1h-1v1h-1v-1h-1v-1h1zM400 295h1v1h1v1h-1v1h-1v-1h-1v-1h1zM374 339h1v1h-1zM374 344h1v1h-1zM375 340h1v1h-1zM375 343h1v1h-1zM376 341h1v1h-1zM376 342h1v1h-1zM377 342h1v1h-1zM377 341h1v1h-1zM378 343h1v1h-1zM378 340h1v1h-1zM379 344h1v1h-1zM379 339h1v1h-1zM366 342h1v1h1v1h-1v1h-1v-1h-1v-1h1zM370 341h1v1h-1zM370 346h1v1h-1zM371 342h1v1h-1zM371 345h1v1h-1zM372 343h1v1h-1zM372 344h1v1h-1zM373 344h1v1h-1zM373 343h1v1h-1zM374 345h1v1h-1zM374 342h1v1h-1zM375 346h1v1h-1zM375 341h1v1h-1zM383 343h1v1h1v1h-1v1h-1v-1h-1v-1h1zM385 342h1v1h-1zM385 347h1v1h-1zM386 343h1v1h-1zM386 346h1v1h-1zM387 344h1v1h-1zM387 345h1v1h-1zM388 345h1v1h-1zM388 344h1v1h-1zM389 346h1v1h-1zM389 343h1v1h-1zM390 347h1v1h-1zM390 342h1v1h-1zM396 338h1v1h1v1h-3v-1h1zM396 343h3v1h-1v1h-1v-1h-1zM395 347h1v1h1v1h-1v1h-1zM380 348h1v1h-1zM380 353h1v1h-1zM381 349h1v1h-1zM381 352h1v1h-1zM382 350h1v1h-1zM382 351h1v1h-1zM383 351h1v1h-1zM383 350h1v1h-1zM384 352h1v1h-1zM384 349h1v1h-1zM385 353h1v1h-1zM385 348h1v1h-1zM386 346h1v1h-1zM386 351h1v1h-1zM387 347h1v1h-1zM387 350h1v1h-1zM388 348h1v1h-1zM388 349h1v1h-1zM389 349h1v1h-1zM389 348h1v1h-1zM390 350h1v1h-1zM390 347h1v1h-1zM391 351h1v1h-1zM391 346h1v1h-1zM390 353h1v1h1v1h-1v1h-1v-1h-1v-1h1zM387 351h1v1h1v1h-1v1h-1v-1h-1v-1h1zM364 353h1v1h-1zM364 358h1v1h-1zM365 354h1v1h-1zM365 357h1v1h-1zM366 355h1v1h-1zM366 356h1v1h-1zM367 356h1v1h-1zM367 355h1v1h-1zM368 357h1v1h-1zM368 354h1v1h-1zM369 358h1v1h-1zM369 353h1v1h-1zM381 353h1v1h1v1h-3v-1h1zM383 356h3v1h-1v1h-1v-1h-1zM384 357h1v3h-1v-1h-1v-1h1zM370 355h1v1h-1zM370 360h1v1h-1zM371 356h1v1h-1zM371 359h1v1h-1zM372 357h1v1h-1zM372 358h1v1h-1zM373 358h1v1h-1zM373 357h1v1h-1zM374 359h1v1h-1zM374 356h1v1h-1zM375 360h1v1h-1zM375 355h1v1h-1zM377 349h1v1h1v1h-1v1h-1v-1h-1v-1h1zM375 346h3v1h-1v1h-1v-1h-1zM385 340h1v1h1v1h-1v1h-1v-1h-1v-1h1z"/><path fill="#00ff60" d="M434 108h1v1h-1zM434 113h1v1h-1zM435 109h1v1h-1zM435 112h1v1h-1zM436 110h1v1h-1zM436 111h1v1h-1zM437 111h1v1h-1zM437 110h1v1h-1zM438 112h1v1h-1zM438 109h1v1h-1zM439 113h1v1h-1zM439 108h1v1h-1zM491 157h1v1h1v1h-1v1h-1v-1h-1v-1h1zM199 260h1v3h-1v-1h-1v-1h1zM408 237h1v1h-1zM408 242h1v1h-1zM409 238h1v1h-1zM409 241h1v1h-1zM410 239h1v1h-1zM410 240h1v1h-1zM411 240h1v1h-1zM411 239h1v1h-1zM412 241h1v1h-1zM412 238h1v1h-1zM413 242h1v1h-1zM413 237h1v1h-1zM252 299h1v1h-1zM252 304h1v1h-1zM253 300h1v1h-1zM253 303h1v1h-1zM254 301h1v1h-1zM254 302h1v1h-1zM255 302h1v1h-1zM255 301h1v1h-1zM256 303h1v1h-1zM256 300h1v1h-1zM257 304h1v1h-1zM257 299h1v1h-1zM259 299h1v1h-1zM259 304h1v1h-1zM260 300h1v1h-1zM260 303h1v1h-1zM261 301h1v1h-1zM261 302h1v1h-1zM262 302h1v1h-1zM262 301h1v1h-1zM263 303h1v1h-1zM263 300h1v1h-1zM264 304h1v1h-1zM264 299h1v1h-1zM255 303h1v1h-1zM255 308h1v1h-1zM256 304h1v1h-1zM256 307h1v1h-1zM257 305h1v1h-1zM257 306h1v1h-1zM258 306h1v1h-1zM258 305h1v1h-1zM259 307h1v1h-1zM259 304h1v1h-1zM260 308h1v1h-1zM260 303h1v1h-1zM263 306h1v1h-1zM263 311h1v1h-1zM264 307h1v1h-1zM264 310h1v1h-1zM265 308h1v1h-1zM265 309h1v1h-1zM266 309h1v1h-1zM266 308h1v1h-1zM267 310h1v1h-1zM267 307h1v1h-1zM268 311h1v1h-1zM268 306h1v1h-1zM253 316h1v1h-1zM253 321h1v1h-1zM254 317h1v1h-1zM254 320h1v1h-1zM255 318h1v1h-1zM255 319h1v1h-1zM256 319h1v1h-1zM256 318h1v1h-1zM257 320h1v1h-1zM257 317h1v1h-1zM258 321h1v1h-1zM258 316h1v1h-1zM273 360h1v3h-1v-1h-1v-1h1zM320 474h1v1h-1zM320 479h1v1h-1zM321 475h1v1h-1zM321 478h1v1h-1zM322 476h1v1h-1zM322 477h1v1h-1zM323 477h1v1h-1zM323 476h1v1h-1zM324 478h1v1h-1zM324 475h1v1h-1zM325 479h1v1h-1zM325 474h1v1h-1zM431 347h1v1h-1zM431 352h1v1h-1zM432 348h1v1h-1zM432 351h1v1h-1zM433 349h1v1h-1zM433 350h1v1h-1zM434 350h1v1h-1zM434 349h1v1h-1zM435 351h1v1h-1zM435 348h1v1h-1zM436 352h1v1h-1zM436 347h1v1h-1z"/><path fill="#00ffa0" d="M426 145h3v1h-1v1h-1v-1h-1zM361 163h1v1h1v1h-3v-1h1zM505 124h1v1h-1zM505 129h1v1h-1zM506 125h1v1h-1zM506 128h1v1h-1zM507 126h1v1h-1zM507 127h1v1h-1zM508 127h1v1h-1zM508 126h1v1h-1zM509 128h1v1h-1zM509 125h1v1h-1zM510 129h1v1h-1zM510 124h1v1h-1zM322 212h1v1h1v1h-1v1h-1v-1h-1v-1h1zM306 264h1v1h1v1h-1v1h-1v-1h-1v-1h1zM263 276h1v1h-1zM263 281h1v1h-1zM264 277h1v1h-1zM264 280h1v1h-1zM265 278h1v1h-1zM265 279h1v1h-1zM266 279h1v1h-1zM266 278h1v1h-1zM267 280h1v1h-1zM267 277h1v1h-1zM268 281h1v1h-1zM268 276h1v1h-1zM266 276h1v1h-1zM266 281h1v1h-1zM267 277h1v1h-1zM267 280h1v1h-1zM268 278h1v1h-1zM268 279h1v1h-1zM269 279h1v1h-1zM269 278h1v1h-1zM270 280h1v1h-1zM270 277h1v1h-1zM271 281h1v1h-1zM271 276h1v1h-1zM273 275h1v1h-1zM273 280h1v1h-1zM274 276h1v1h-1zM274 279h1v1h-1zM275 277h1v1h-1zM275 278h1v1h-1zM276 278h1v1h-1zM276 277h1v1h-1zM277 279h1v1h-1zM277 276h1v1h-1zM278 280h1v1h-1zM278 275h1v1h-1zM351 198h1v3h-1v-1h-1v-1h1zM439 194h1v1h-1zM439 199h1v1h-1zM440 195h1v1h-1zM440 198h1v1h-1zM441 196h1v1h-1zM441 197h1v1h-1zM442 197h1v1h-1zM442 196h1v1h-1zM443 198h1v1h-1zM443 195h1v1h-1zM444 199h1v1h-1zM444 194h1v1h-1zM557 187h1v1h-1zM557 192h1v1h-1zM558 188h1v1h-1zM558 191h1v1h-1zM559 189h1v1h-1zM559 190h1v1h-1zM560 190h1v1h-1zM560 189h1v1h-1zM561 191h1v1h-1zM561 188h1v1h-1zM562 192h1v1h-1zM562 187h1v1h-1zM494 251h1v1h-1zM494 256h1v1h-1zM495 252h1v1h-1zM495 255h1v1h-1zM496 253h1v1h-1zM496 254h1v1h-1zM497 254h1v1h-1zM497 253h1v1h-1zM498 255h1v1h-1zM498 252h1v1h-1zM499 256h1v1h-1zM499 251h1v1h-1zM464 229h1v3h-1v-1h-1v-1h1zM431 263h1v1h1v1h-1v1h-1zM427 270h3v1h-1v1h-1v-1h-1zM346 239h1v3h-1v-1h-1v-1h1zM397 239h1v1h-1zM397 244h1v1h-1zM398 240h1v1h-1zM398 243h1v1h-1zM399 241h1v1h-1zM399 242h1v1h-1zM400 242h1v1h-1zM400 241h1v1h-1zM401 243h1v1h-1zM401 240h1v1h-1zM402 244h1v1h-1zM402 239h1v1h-1zM393 251h1v1h1v1h-3v-1h1zM397 258h3v1h-1v1h-1v-1h-1zM376 256h1v1h-1zM376 261h1v1h-1zM377 257h1v1h-1zM377 260h1v1h-1zM378 258h1v1h-1zM378 259h1v1h-1zM379 259h1v1h-1zM379 258h1v1h-1zM380 260h1v1h-1zM380 257h1v1h-1zM381 261h1v1h-1zM381 256h1v1h-1zM391 260h1v3h-1v-1h-1v-1h1zM319 287h1v1h-1zM319 292h1v1h-1zM320 288h1v1h-1zM320 291h1v1h-1zM321 289h1v1h-1zM321 290h1v1h-1zM322 290h1v1h-1zM322 289h1v1h-1zM323 291h1v1h-1zM323 288h1v1h-1zM324 292h1v1h-1zM324 287h1v1h-1zM311 343h1v1h1v1h-1v1h-1v-1h-1v-1h1zM233 417h1v1h1v1h-3v-1h1zM323 446h3v1h-1v1h-1v-1h-1zM459 358h1v1h-1zM459 363h1v1h-1zM460 359h1v1h-1zM460 362h1v1h-1zM461 360h1v1h-1zM461 361h1v1h-1zM462 361h1v1h-1zM462 360h1v1h-1zM463 362h1v1h-1zM463 359h1v1h-1zM464 363h1v1h-1zM464 358h1v1h-1zM459 365h1v1h-1zM459 370h1v1h-1zM460 366h1v1h-1zM460 369h1v1h-1zM461 367h1v1h-1zM461 368h1v1h-1zM462 368h1v1h-1zM462 367h1v1h-1zM463 369h1v1h-1zM463 366h1v1h-1zM464 370h1v1h-1zM464 365h1v1h-1zM424 375h3v1h-1v1h-1v-1h-1zM486 381h1v3h-1v-1h-1v-1h1zM465 388h1v1h-1zM465 393h1v1h-1zM466 389h1v1h-1zM466 392h1v1h-1zM467 390h1v1h-1zM467 391h1v1h-1zM468 391h1v1h-1zM468 390h1v1h-1zM469 392h1v1h-1zM469 389h1v1h-1zM470 393h1v1h-1zM470 388h1v1h-1zM450 387h1v3h-1v-1h-1v-1h1zM355 331h1v1h1v1h-3v-1h1zM367 330h3v1h-1v1h-1v-1h-1zM377 332h3v1h-1v1h-1v-1h-1zM362 349h1v3h-1v-1h-1v-1h1zM420 344h1v1h1v1h-3v-1h1zM400 346h1v1h-1zM400 351h1v1h-1zM401 347h1v1h-1zM401 350h1v1h-1zM402 348h1v1h-1zM402 349h1v1h-1zM403 349h1v1h-1zM403 348h1v1h-1zM404 350h1v1h-1zM404 347h1v1h-1zM405 351h1v1h-1zM405 346h1v1h-1zM365 359h1v1h1v1h-1v1h-1zM350 373h1v3h-1v-1h-1v-1h1zM358 372h1v1h1v1h-1v1h-1zM362 374h1v1h1v1h-1v1h-1zM372 375h1v3h-1v-1h-1v-1h1zM375 375h1v1h1v1h-1v1h-1v-1h-1v-1h1zM379 370h1v1h1v1h-1v1h-1v-1h-1v-1h1zM351 381h1v1h1v1h-1v1h-1v-1h-1v-1h1zM348 387h1v3h-1v-1h-1v-1h1zM374 387h1v1h1v1h-1v1h-1v-1h-1v-1h1zM371 392h3v1h-1v1h-1v-1h-1zM401 358h1v3h-1v-1h-1v-1h1zM382 363h3v1h-1v1h-1v-1h-1zM393 363h1v1h1v1h-1v1h-1v-1h-1v-1h1zM399 362h1v1h-1zM399 367h1v1h-1zM400 363h1v1h-1zM400 366h1v1h-1zM401 364h1v1h-1zM401 365h1v1h-1zM402 365h1v1h-1zM402 364h1v1h-1zM403 366h1v1h-1zM403 363h1v1h-1zM404 367h1v1h-1zM404 362h1v1h-1zM406 367h1v1h1v1h-1v1h-1v-1h-1v-1h1zM385 370h1v1h1v1h-1v1h-1v-1h-1v-1h1zM390 371h1v1h1v1h-1v1h-1v-1h-1v-1h1zM407 371h1v1h1v1h-1v1h-1zM395 373h1v1h1v1h-1v1h-1v-1h-1v-1h1zM401 374h3v1h-1v1h-1v-1h-1zM423 376h3v1h-1v1h-1v-1h-1zM391 379h1v1h1v1h-3v-1h1zM398 380h1v1h1v1h-1v1h-1zM400 381h3v1h-1v1h-1v-1h-1zM403 383h1v1h1v1h-1v1h-1v-1h-1v-1h1zM385 390h3v1h-1v1h-1v-1h-1zM406 389h1v3h-1v-1h-1v-1h1zM372 394h1v1h1v1h-1v1h-1zM362 400h1v1h1v1h-1v1h-1v-1h-1v-1h1zM373 400h1v1h1v1h-1v1h-1v-1h-1v-1h1zM358 404h1v1h-1zM358 409h1v1h-1zM359 405h1v1h-1zM359 408h1v1h-1zM360 406h1v1h-1zM360 407h1v1h-1zM361 407h1v1h-1zM361 406h1v1h-1zM362 408h1v1h-1zM362 405h1v1h-1zM363 409h1v1h-1zM363 404h1v1h-1zM365 403h1v1h1v1h-1v1h-1v-1h-1v-1h1zM377 404h3v1h-1v1h-1v-1h-1zM365 408h1v1h1v1h-1v1h-1v-1h-1v-1h1zM346 409h1v1h1v1h-1v1h-1v-1h-1v-1h1zM366 418h1v1h1v1h-1v1h-1zM358 419h1v1h-1zM358 424h1v1h-1zM359 420h1v1h-1zM359 423h1v1h-1zM360 421h1v1h-1zM360 422h1v1h-1zM361 422h1v1h-1zM361 421h1v1h-1zM362 423h1v1h-1zM362 420h1v1h-1zM363 424h1v1h-1zM363 419h1v1h-1zM372 430h1v1h1v1h-1v1h-1zM379 425h1v1h1v1h-1v1h-1v-1h-1v-1h1zM395 398h3v1h-1v1h-1v-1h-1zM401 400h1v3h-1v-1h-1v-1h1zM387 403h1v1h1v1h-1v1h-1zM393 405h1v1h-1zM393 410h1v1h-1zM394 406h1v1h-1zM394 409h1v1h-1zM395 407h1v1h-1zM395 408h1v1h-1zM396 408h1v1h-1zM396 407h1v1h-1zM397 409h1v1h-1zM397 406h1v1h-1zM398 410h1v1h-1zM398 405h1v1h-1zM423 405h1v1h-1zM423 410h1v1h-1zM424 406h1v1h-1zM424 409h1v1h-1zM425 407h1v1h-1zM425 408h1v1h-1zM426 408h1v1h-1zM426 407h1v1h-1zM427 409h1v1h-1zM427 406h1v1h-1zM428 410h1v1h-1zM428 405h1v1h-1zM381 409h1v1h-1zM381 414h1v1h-1zM382 410h1v1h-1zM382 413h1v1h-1zM383 411h1v1h-1zM383 412h1v1h-1zM384 412h1v1h-1zM384 411h1v1h-1zM385 413h1v1h-1zM385 410h1v1h-1zM386 414h1v1h-1zM386 409h1v1h-1zM390 411h1v3h-1v-1h-1v-1h1zM413 409h1v1h-1zM413 414h1v1h-1zM414 410h1v1h-1zM414 413h1v1h-1zM415 411h1v1h-1zM415 412h1v1h-1zM416 412h1v1h-1zM416 411h1v1h-1zM417 413h1v1h-1zM417 410h1v1h-1zM418 414h1v1h-1zM418 409h1v1h-1zM398 415h1v3h-1v-1h-1v-1h1zM412 413h1v1h-1zM412 418h1v1h-1zM413 414h1v1h-1zM413 417h1v1h-1zM414 415h1v1h-1zM414 416h1v1h-1zM415 416h1v1h-1zM415 415h1v1h-1zM416 417h1v1h-1zM416 414h1v1h-1zM417 418h1v1h-1zM417 413h1v1h-1zM412 419h1v3h-1v-1h-1v-1h1zM389 420h1v1h1v1h-1v1h-1v-1h-1v-1h1zM398 420h1v1h1v1h-3v-1h1zM380 425h3v1h-1v1h-1v-1h-1zM388 425h1v1h-1zM388 430h1v1h-1zM389 426h1v1h-1zM389 429h1v1h-1zM390 427h1v1h-1zM390 428h1v1h-1zM391 428h1v1h-1zM391 427h1v1h-1zM392 429h1v1h-1zM392 426h1v1h-1zM393 430h1v1h-1zM393 425h1v1h-1zM398 424h1v1h1v1h-1v1h-1v-1h-1v-1h1zM400 425h1v1h-1zM400 430h1v1h-1zM401 426h1v1h-1zM401 429h1v1h-1zM402 427h1v1h-1zM402 428h1v1h-1zM403 428h1v1h-1zM403 427h1v1h-1zM404 429h1v1h-1zM404 426h1v1h-1zM405 430h1v1h-1zM405 425h1v1h-1zM415 424h1v1h-1zM415 429h1v1h-1zM416 425h1v1h-1zM416 428h1v1h-1zM417 426h1v1h-1zM417 427h1v1h-1zM418 427h1v1h-1zM418 426h1v1h-1zM419 428h1v1h-1zM419 425h1v1h-1zM420 429h1v1h-1zM420 424h1v1h-1zM412 427h1v1h1v1h-1v1h-1v-1h-1v-1h1zM422 427h1v3h-1v-1h-1v-1h1zM390 430h1v1h1v1h-1v1h-1zM395 429h1v1h1v1h-3v-1h1zM410 429h1v1h1v1h-1v1h-1v-1h-1v-1h1zM381 429h1v1h1v1h-1v1h-1v-1h-1v-1h1zM444 397h1v1h-1zM444 402h1v1h-1zM445 398h1v1h-1zM445 401h1v1h-1zM446 399h1v1h-1zM446 400h1v1h-1zM447 400h1v1h-1zM447 399h1v1h-1zM448 401h1v1h-1zM448 398h1v1h-1zM449 402h1v1h-1zM449 397h1v1h-1zM453 406h1v1h-1zM453 411h1v1h-1zM454 407h1v1h-1zM454 410h1v1h-1zM455 408h1v1h-1zM455 409h1v1h-1zM456 409h1v1h-1zM456 408h1v1h-1zM457 410h1v1h-1zM457 407h1v1h-1zM458 411h1v1h-1zM458 406h1v1h-1zM453 411h1v1h-1zM453 416h1v1h-1zM454 412h1v1h-1zM454 415h1v1h-1zM455 413h1v1h-1zM455 414h1v1h-1zM456 414h1v1h-1zM456 413h1v1h-1zM457 415h1v1h-1zM457 412h1v1h-1zM458 416h1v1h-1zM458 411h1v1h-1zM432 413h1v1h-1zM432 418h1v1h-1zM433 414h1v1h-1zM433 417h1v1h-1zM434 415h1v1h-1zM434 416h1v1h-1zM435 416h1v1h-1zM435 415h1v1h-1zM436 417h1v1h-1zM436 414h1v1h-1zM437 418h1v1h-1zM437 413h1v1h-1zM446 415h1v1h-1zM446 420h1v1h-1zM447 416h1v1h-1zM447 419h1v1h-1zM448 417h1v1h-1zM448 418h1v1h-1zM449 418h1v1h-1zM449 417h1v1h-1zM450 419h1v1h-1zM450 416h1v1h-1zM451 420h1v1h-1zM451 415h1v1h-1zM461 414h1v1h-1zM461 419h1v1h-1zM462 415h1v1h-1zM462 418h1v1h-1zM463 416h1v1h-1zM463 417h1v1h-1zM464 417h1v1h-1zM464 416h1v1h-1zM465 418h1v1h-1zM465 415h1v1h-1zM466 419h1v1h-1zM466 414h1v1h-1zM447 421h1v1h-1zM447 426h1v1h-1zM448 422h1v1h-1zM448 425h1v1h-1zM449 423h1v1h-1zM449 424h1v1h-1zM450 424h1v1h-1zM450 423h1v1h-1zM451 425h1v1h-1zM451 422h1v1h-1zM452 426h1v1h-1zM452 421h1v1h-1zM454 423h1v1h-1zM454 428h1v1h-1zM455 424h1v1h-1zM455 427h1v1h-1zM456 425h1v1h-1zM456 426h1v1h-1zM457 426h1v1h-1zM457 425h1v1h-1zM458 427h1v1h-1zM458 424h1v1h-1zM459 428h1v1h-1zM459 423h1v1h-1zM461 424h1v3h-1v-1h-1v-1h1zM431 432h1v1h-1zM431 437h1v1h-1zM432 433h1v1h-1zM432 436h1v1h-1zM433 434h1v1h-1zM433 435h1v1h-1zM434 435h1v1h-1zM434 434h1v1h-1zM435 436h1v1h-1zM435 433h1v1h-1zM436 437h1v1h-1zM436 432h1v1h-1zM444 434h1v1h-1zM444 439h1v1h-1zM445 435h1v1h-1zM445 438h1v1h-1zM446 436h1v1h-1zM446 437h1v1h-1zM447 437h1v1h-1zM447 436h1v1h-1zM448 438h1v1h-1zM448 435h1v1h-1zM449 439h1v1h-1zM449 434h1v1h-1zM451 436h1v1h-1zM451 441h1v1h-1zM452 437h1v1h-1zM452 440h1v1h-1zM453 438h1v1h-1zM453 439h1v1h-1zM454 439h1v1h-1zM454 438h1v1h-1zM455 440h1v1h-1zM455 437h1v1h-1zM456 441h1v1h-1zM456 436h1v1h-1zM455 436h1v1h-1zM455 441h1v1h-1zM456 437h1v1h-1zM456 440h1v1h-1zM457 438h1v1h-1zM457 439h1v1h-1zM458 439h1v1h-1zM458 438h1v1h-1zM459 440h1v1h-1zM459 437h1v1h-1zM460 441h1v1h-1zM460 436h1v1h-1zM441 446h1v1h-1zM441 451h1v1h-1zM442 447h1v1h-1zM442 450h1v1h-1zM443 448h1v1h-1zM443 449h1v1h-1zM444 449h1v1h-1zM444 448h1v1h-1zM445 450h1v1h-1zM445 447h1v1h-1zM446 451h1v1h-1zM446 446h1v1h-1zM442 463h1v1h-1zM442 468h1v1h-1zM443 464h1v1h-1zM443 467h1v1h-1zM444 465h1v1h-1zM444 466h1v1h-1zM445 466h1v1h-1zM445 465h1v1h-1zM446 467h1v1h-1zM446 464h1v1h-1zM447 468h1v1h-1zM447 463h1v1h-1zM430 427h1v1h1v1h-1v1h-1v-1h-1v-1h1zM373 431h1v1h1v1h-1v1h-1v-1h-1v-1h1zM358 440h1v1h-1zM358 445h1v1h-1zM359 441h1v1h-1zM359 444h1v1h-1zM360 442h1v1h-1zM360 443h1v1h-1zM361 443h1v1h-1zM361 442h1v1h-1zM362 444h1v1h-1zM362 441h1v1h-1zM363 445h1v1h-1zM363 440h1v1h-1zM356 442h1v1h1v1h-1v1h-1v-1h-1v-1h1zM363 443h1v1h1v1h-3v-1h1zM360 456h1v1h1v1h-1v1h-1v-1h-1v-1h1zM369 461h1v1h-1zM369 466h1v1h-1zM370 462h1v1h-1zM370 465h1v1h-1zM371 463h1v1h-1zM371 464h1v1h-1zM372 464h1v1h-1zM372 463h1v1h-1zM373 465h1v1h-1zM373 462h1v1h-1zM374 466h1v1h-1zM374 461h1v1h-1zM391 431h1v1h-1zM391 436h1v1h-1zM392 432h1v1h-1zM392 435h1v1h-1zM393 433h1v1h-1zM393 434h1v1h-1zM394 434h1v1h-1zM394 433h1v1h-1zM395 435h1v1h-1zM395 432h1v1h-1zM396 436h1v1h-1zM396 431h1v1h-1zM396 431h1v1h-1zM396 436h1v1h-1zM397 432h1v1h-1zM397 435h1v1h-1zM398 433h1v1h-1zM398 434h1v1h-1zM399 434h1v1h-1zM399 433h1v1h-1zM400 435h1v1h-1zM400 432h1v1h-1zM401 436h1v1h-1zM401 431h1v1h-1zM409 430h1v1h-1zM409 435h1v1h-1zM410 431h1v1h-1zM410 434h1v1h-1zM411 432h1v1h-1zM411 433h1v1h-1zM412 433h1v1h-1zM412 432h1v1h-1zM413 434h1v1h-1zM413 431h1v1h-1zM414 435h1v1h-1zM414 430h1v1h-1zM413 435h1v1h-1zM413 440h1v1h-1zM414 436h1v1h-1zM414 439h1v1h-1zM415 437h1v1h-1zM415 438h1v1h-1zM416 438h1v1h-1zM416 437h1v1h-1zM417 439h1v1h-1zM417 436h1v1h-1zM418 440h1v1h-1zM418 435h1v1h-1zM422 435h1v1h-1zM422 440h1v1h-1zM423 436h1v1h-1zM423 439h1v1h-1zM424 437h1v1h-1zM424 438h1v1h-1zM425 438h1v1h-1zM425 437h1v1h-1zM426 439h1v1h-1zM426 436h1v1h-1zM427 440h1v1h-1zM427 435h1v1h-1zM416 438h1v1h-1zM416 443h1v1h-1zM417 439h1v1h-1zM417 442h1v1h-1zM418 440h1v1h-1zM418 441h1v1h-1zM419 441h1v1h-1zM419 440h1v1h-1zM420 442h1v1h-1zM420 439h1v1h-1zM421 443h1v1h-1zM421 438h1v1h-1zM419 441h1v1h-1zM419 446h1v1h-1zM420 442h1v1h-1zM420 445h1v1h-1zM421 443h1v1h-1zM421 444h1v1h-1zM422 444h1v1h-1zM422 443h1v1h-1zM423 445h1v1h-1zM423 442h1v1h-1zM424 446h1v1h-1zM424 441h1v1h-1zM411 443h1v1h-1zM411 448h1v1h-1zM412 444h1v1h-1zM412 447h1v1h-1zM413 445h1v1h-1zM413 446h1v1h-1zM414 446h1v1h-1zM414 445h1v1h-1zM415 447h1v1h-1zM415 444h1v1h-1zM416 448h1v1h-1zM416 443h1v1h-1zM417 444h1v1h-1zM417 449h1v1h-1zM418 445h1v1h-1zM418 448h1v1h-1zM419 446h1v1h-1zM419 447h1v1h-1zM420 447h1v1h-1zM420 446h1v1h-1zM421 448h1v1h-1zM421 445h1v1h-1zM422 449h1v1h-1zM422 444h1v1h-1zM421 447h1v1h-1zM421 452h1v1h-1zM422 448h1v1h-1zM422 451h1v1h-1zM423 449h1v1h-1zM423 450h1v1h-1zM424 450h1v1h-1zM424 449h1v1h-1zM425 451h1v1h-1zM425 448h1v1h-1zM426 452h1v1h-1zM426 447h1v1h-1zM423 453h1v1h-1zM423 458h1v1h-1zM424 454h1v1h-1zM424 457h1v1h-1zM425 455h1v1h-1zM425 456h1v1h-1zM426 456h1v1h-1zM426 455h1v1h-1zM427 457h1v1h-1zM427 454h1v1h-1zM428 458h1v1h-1zM428 453h1v1h-1zM419 467h1v1h1v1h-1v1h-1zM424 467h1v3h-1v-1h-1v-1h1zM362 475h1v1h-1zM362 480h1v1h-1zM363 476h1v1h-1zM363 479h1v1h-1zM364 477h1v1h-1zM364 478h1v1h-1zM365 478h1v1h-1zM365 477h1v1h-1zM366 479h1v1h-1zM366 476h1v1h-1zM367 480h1v1h-1zM367 475h1v1h-1zM377 497h1v1h-1zM377 502h1v1h-1zM378 498h1v1h-1zM378 501h1v1h-1zM379 499h1v1h-1zM379 500h1v1h-1zM380 500h1v1h-1zM380 499h1v1h-1zM381 501h1v1h-1zM381 498h1v1h-1zM382 502h1v1h-1zM382 497h1v1h-1zM413 472h1v1h-1zM413 477h1v1h-1zM414 473h1v1h-1zM414 476h1v1h-1zM415 474h1v1h-1zM415 475h1v1h-1zM416 475h1v1h-1zM416 474h1v1h-1zM417 476h1v1h-1zM417 473h1v1h-1zM418 477h1v1h-1zM418 472h1v1h-1zM419 467h1v1h-1zM419 472h1v1h-1zM420 468h1v1h-1zM420 471h1v1h-1zM421 469h1v1h-1zM421 470h1v1h-1zM422 470h1v1h-1zM422 469h1v1h-1zM423 471h1v1h-1zM423 468h1v1h-1zM424 472h1v1h-1zM424 467h1v1h-1zM421 477h1v1h-1zM421 482h1v1h-1zM422 478h1v1h-1zM422 481h1v1h-1zM423 479h1v1h-1zM423 480h1v1h-1zM424 480h1v1h-1zM424 479h1v1h-1zM425 481h1v1h-1zM425 478h1v1h-1zM426 482h1v1h-1zM426 477h1v1h-1zM449 479h1v1h-1zM449 484h1v1h-1zM450 480h1v1h-1zM450 483h1v1h-1zM451 481h1v1h-1zM451 482h1v1h-1zM452 482h1v1h-1zM452 481h1v1h-1zM453 483h1v1h-1zM453 480h1v1h-1zM454 484h1v1h-1zM454 479h1v1h-1zM350 276h1v1h1v1h-3v-1h1zM340 291h3v1h-1v1h-1v-1h-1zM369 284h1v1h-1zM369 289h1v1h-1zM370 285h1v1h-1zM370 288h1v1h-1zM371 286h1v1h-1zM371 287h1v1h-1zM372 287h1v1h-1zM372 286h1v1h-1zM373 288h1v1h-1zM373 285h1v1h-1zM374 289h1v1h-1zM374 284h1v1h-1zM353 291h1v1h1v1h-3v-1h1zM357 290h1v1h1v1h-1v1h-1v-1h-1v-1h1zM356 301h1v3h-1v-1h-1v-1h1zM354 303h1v3h-1v-1h-1v-1h1zM341 306h1v1h1v1h-1v1h-1v-1h-1v-1h1zM363 313h1v1h1v1h-1v1h-1zM374 321h1v1h1v1h-1v1h-1v-1h-1v-1h1zM370 325h1v1h1v1h-1v1h-1v-1h-1v-1h1zM373 323h1v1h-1zM373 328h1v1h-1zM374 324h1v1h-1zM374 327h1v1h-1zM375 325h1v1h-1zM375 326h1v1h-1zM376 326h1v1h-1zM376 325h1v1h-1zM377 327h1v1h-1zM377 324h1v1h-1zM378 328h1v1h-1zM378 323h1v1h-1zM368 327h1v1h1v1h-1v1h-1v-1h-1v-1h1zM407 300h1v1h-1zM407 305h1v1h-1zM408 301h1v1h-1zM408 304h1v1h-1zM409 302h1v1h-1zM409 303h1v1h-1zM410 303h1v1h-1zM410 302h1v1h-1zM411 304h1v1h-1zM411 301h1v1h-1zM412 305h1v1h-1zM412 300h1v1h-1zM392 309h1v1h1v1h-1v1h-1v-1h-1v-1h1zM400 311h1v3h-1v-1h-1v-1h1zM384 275h1v1h1v1h-1v1h-1v-1h-1v-1h1zM388 286h1v1h1v1h-3v-1h1zM389 288h1v1h1v1h-1v1h-1v-1h-1v-1h1zM392 288h1v1h1v1h-3v-1h1zM393 289h1v1h1v1h-1v1h-1zM407 290h1v1h-1zM407 295h1v1h-1zM408 291h1v1h-1zM408 294h1v1h-1zM409 292h1v1h-1zM409 293h1v1h-1zM410 293h1v1h-1zM410 292h1v1h-1zM411 294h1v1h-1zM411 291h1v1h-1zM412 295h1v1h-1zM412 290h1v1h-1zM368 348h1v1h-1zM368 353h1v1h-1zM369 349h1v1h-1zM369 352h1v1h-1zM370 350h1v1h-1zM370 351h1v1h-1zM371 351h1v1h-1zM371 350h1v1h-1zM372 352h1v1h-1zM372 349h1v1h-1zM373 353h1v1h-1zM373 348h1v1h-1zM392 340h1v1h1v1h-1v1h-1v-1h-1v-1h1zM370 353h1v3h-1v-1h-1v-1h1zM371 356h3v1h-1v1h-1v-1h-1zM392 354h1v1h-1zM392 359h1v1h-1zM393 355h1v1h-1zM393 358h1v1h-1zM394 356h1v1h-1zM394 357h1v1h-1zM395 357h1v1h-1zM395 356h1v1h-1zM396 358h1v1h-1zM396 355h1v1h-1zM397 359h1v1h-1zM397 354h1v1h-1zM379 358h1v1h1v1h-1v1h-1v-1h-1v-1h1zM365 345h1v1h-1zM365 350h1v1h-1zM366 346h1v1h-1zM366 349h1v1h-1zM367 347h1v1h-1zM367 348h1v1h-1zM368 348h1v1h-1zM368 347h1v1h-1zM369 349h1v1h-1zM369 346h1v1h-1zM370 350h1v1h-1zM370 345h1v1h-1zM366 350h1v1h1v1h-3v-1h1z"/><path fill="#9bff00" d="M256 268h1v1h1v1h-3v-1h1zM398 189h1v1h-1zM398 194h1v1h-1zM399 190h1v1h-1zM399 193h1v1h-1zM400 191h1v1h-1zM400 192h1v1h-1zM401 192h1v1h-1zM401 191h1v1h-1zM402 193h1v1h-1zM402 190h1v1h-1zM403 194h1v1h-1zM403 189h1v1h-1zM358 200h1v1h1v1h-1v1h-1v-1h-1v-1h1zM447 187h1v1h1v1h-1v1h-1zM414 235h1v1h-1zM414 240h1v1h-1zM415 236h1v1h-1zM415 239h1v1h-1zM416 237h1v1h-1zM416 238h1v1h-1zM417 238h1v1h-1zM417 237h1v1h-1zM418 239h1v1h-1zM418 236h1v1h-1zM419 240h1v1h-1zM419 235h1v1h-1zM358 248h1v1h1v1h-1v1h-1v-1h-1v-1h1zM379 258h3v1h-1v1h-1v-1h-1zM336 263h1v1h1v1h-1v1h-1v-1h-1v-1h1zM357 267h1v1h1v1h-1v1h-1v-1h-1v-1h1zM366 262h1v1h-1zM366 267h1v1h-1zM367 263h1v1h-1zM367 266h1v1h-1zM368 264h1v1h-1zM368 265h1v1h-1zM369 265h1v1h-1zM369 264h1v1h-1zM370 266h1v1h-1zM370 263h1v1h-1zM371 267h1v1h-1zM371 262h1v1h-1zM302 335h3v1h-1v1h-1v-1h-1zM318 371h1v1h-1zM318 376h1v1h-1zM319 372h1v1h-1zM319 375h1v1h-1zM320 373h1v1h-1zM320 374h1v1h-1zM321 374h1v1h-1zM321 373h1v1h-1zM322 375h1v1h-1zM322 372h1v1h-1zM323 376h1v1h-1zM323 371h1v1h-1zM420 361h3v1h-1v1h-1v-1h-1zM454 383h1v3h-1v-1h-1v-1h1zM346 335h1v3h-1v-1h-1v-1h1zM422 321h1v1h-1zM422 326h1v1h-1zM423 322h1v1h-1zM423 325h1v1h-1zM424 323h1v1h-1zM424 324h1v1h-1zM425 324h1v1h-1zM425 323h1v1h-1zM426 325h1v1h-1zM426 322h1v1h-1zM427 326h1v1h-1zM427 321h1v1h-1zM406 331h1v1h1v1h-1v1h-1v-1h-1v-1h1zM416 361h1v1h-1zM416 366h1v1h-1zM417 362h1v1h-1zM417 365h1v1h-1zM418 363h1v1h-1zM418 364h1v1h-1zM419 364h1v1h-1zM419 363h1v1h-1zM420 365h1v1h-1zM420 362h1v1h-1zM421 366h1v1h-1zM421 361h1v1h-1zM363 400h3v1h-1v1h-1v-1h-1zM387 395h1v1h-1zM387 400h1v1h-1zM388 396h1v1h-1zM388 399h1v1h-1zM389 397h1v1h-1zM389 398h1v1h-1zM390 398h1v1h-1zM390 397h1v1h-1zM391 399h1v1h-1zM391 396h1v1h-1zM392 400h1v1h-1zM392 395h1v1h-1zM474 429h1v1h-1zM474 434h1v1h-1zM475 430h1v1h-1zM475 433h1v1h-1zM476 431h1v1h-1zM476 432h1v1h-1zM477 432h1v1h-1zM477 431h1v1h-1zM478 433h1v1h-1zM478 430h1v1h-1zM479 434h1v1h-1zM479 429h1v1h-1zM495 437h1v1h-1zM495 442h1v1h-1zM496 438h1v1h-1zM496 441h1v1h-1zM497 439h1v1h-1zM497 440h1v1h-1zM498 440h1v1h-1zM498 439h1v1h-1zM499 441h1v1h-1zM499 438h1v1h-1zM500 442h1v1h-1zM500 437h1v1h-1zM392 504h1v1h1v1h-3v-1h1zM340 273h1v1h-1zM340 278h1v1h-1zM341 274h1v1h-1zM341 277h1v1h-1zM342 275h1v1h-1zM342 276h1v1h-1zM343 276h1v1h-1zM343 275h1v1h-1zM344 277h1v1h-1zM344 274h1v1h-1zM345 278h1v1h-1zM345 273h1v1h-1zM340 279h1v1h-1zM340 284h1v1h-1zM341 280h1v1h-1zM341 283h1v1h-1zM342 281h1v1h-1zM342 282h1v1h-1zM343 282h1v1h-1zM343 281h1v1h-1zM344 283h1v1h-1zM344 280h1v1h-1zM345 284h1v1h-1zM345 279h1v1h-1zM356 307h1v1h-1zM356 312h1v1h-1zM357 308h1v1h-1zM357 311h1v1h-1zM358 309h1v1h-1zM358 310h1v1h-1zM359 310h1v1h-1zM359 309h1v1h-1zM360 311h1v1h-1zM360 308h1v1h-1zM361 312h1v1h-1zM361 307h1v1h-1zM389 317h1v1h1v1h-1v1h-1z"/><path fill="#00ffff" d="M315 98h1v1h1v1h-1v1h-1v-1h-1v-1h1zM275 230h3v1h-1v1h-1v-1h-1zM298 245h1v3h-1v-1h-1v-1h1zM325 261h1v1h-1zM325 266h1v1h-1zM326 262h1v1h-1zM326 265h1v1h-1zM327 263h1v1h-1zM327 264h1v1h-1zM328 264h1v1h-1zM328 263h1v1h-1zM329 265h1v1h-1zM329 262h1v1h-1zM330 266h1v1h-1zM330 261h1v1h-1zM393 216h1v3h-1v-1h-1v-1h1zM374 250h1v1h1v1h-1v1h-1v-1h-1v-1h1zM378 267h1v1h-1zM378 272h1v1h-1zM379 268h1v1h-1zM379 271h1v1h-1zM380 269h1v1h-1zM380 270h1v1h-1zM381 270h1v1h-1zM381 269h1v1h-1zM382 271h1v1h-1zM382 268h1v1h-1zM383 272h1v1h-1zM383 267h1v1h-1zM311 291h1v1h1v1h-3v-1h1zM353 343h1v1h1v1h-1v1h-1v-1h-1v-1h1zM393 329h1v1h1v1h-3v-1h1zM401 337h1v1h1v1h-1v1h-1v-1h-1v-1h1zM407 343h1v1h1v1h-1v1h-1v-1h-1v-1h1zM398 348h1v1h1v1h-3v-1h1zM376 366h1v1h1v1h-1v1h-1zM389 363h1v1h1v1h-3v-1h1zM404 365h3v1h-1v1h-1v-1h-1zM403 377h1v1h-1zM403 382h1v1h-1zM404 378h1v1h-1zM404 381h1v1h-1zM405 379h1v1h-1zM405 380h1v1h-1zM406 380h1v1h-1zM406 379h1v1h-1zM407 381h1v1h-1zM407 378h1v1h-1zM408 382h1v1h-1zM408 377h1v1h-1zM396 380h1v1h1v1h-3v-1h1zM416 431h3v1h-1v1h-1v-1h-1zM439 440h1v1h-1zM439 445h1v1h-1zM440 441h1v1h-1zM440 444h1v1h-1zM441 442h1v1h-1zM441 443h1v1h-1zM442 443h1v1h-1zM442 442h1v1h-1zM443 444h1v1h-1zM443 441h1v1h-1zM444 445h1v1h-1zM444 440h1v1h-1zM405 432h1v3h-1v-1h-1v-1h1zM415 432h3v1h-1v1h-1v-1h-1zM379 271h1v1h1v1h-3v-1h1zM374 290h1v1h1v1h-1v1h-1zM348 319h3v1h-1v1h-1v-1h-1zM365 317h1v1h1v1h-1v1h-1zM363 324h1v3h-1v-1h-1v-1h1zM397 315h1v1h1v1h-1v1h-1zM404 317h3v1h-1v1h-1v-1h-1zM400 320h1v1h1v1h-1v1h-1v-1h-1v-1h1zM390 327h1v3h-1v-1h-1v-1h1zM392 329h3v1h-1v1h-1v-1h-1zM381 269h1v1h1v1h-3v-1h1zM417 270h1v3h-1v-1h-1v-1h1zM416 272h1v1h1v1h-1v1h-1zM388 337h1v1h1v1h-1v1h-1v-1h-1v-1h1zM377 344h3v1h-1v1h-1v-1h-1zM395 345h1v1h1v1h-3v-1h1zM394 353h1v3h-1v-1h-1v-1h1z"/><path fill="#0096ff" d="M451 168h3v1h-1v1h-1v-1h-1zM396 185h1v1h1v1h-1v1h-1v-1h-1v-1h1zM626 259h1v3h-1v-1h-1v-1h1zM417 242h1v1h-1zM417 247h1v1h-1zM418 243h1v1h-1zM418 246h1v1h-1zM419 244h1v1h-1zM419 245h1v1h-1zM420 245h1v1h-1zM420 244h1v1h-1zM421 246h1v1h-1zM421 243h1v1h-1zM422 247h1v1h-1zM422 242h1v1h-1zM326 292h1v1h1v1h-1v1h-1v-1h-1v-1h1zM329 295h1v1h1v1h-1v1h-1v-1h-1v-1h1zM323 412h1v3h-1v-1h-1v-1h1zM329 296h1v1h-1zM329 301h1v1h-1zM330 297h1v1h-1zM330 300h1v1h-1zM331 298h1v1h-1zM331 299h1v1h-1zM332 299h1v1h-1zM332 298h1v1h-1zM333 300h1v1h-1zM333 297h1v1h-1zM334 301h1v1h-1zM334 296h1v1h-1zM418 294h1v1h-1zM418 299h1v1h-1zM419 295h1v1h-1zM419 298h1v1h-1zM420 296h1v1h-1zM420 297h1v1h-1zM421 297h1v1h-1zM421 296h1v1h-1zM422 298h1v1h-1zM422 295h1v1h-1zM423 299h1v1h-1zM423 294h1v1h-1zM419 315h1v1h-1zM419 320h1v1h-1zM420 316h1v1h-1zM420 319h1v1h-1zM421 317h1v1h-1zM421 318h1v1h-1zM422 318h1v1h-1zM422 317h1v1h-1zM423 319h1v1h-1zM423 316h1v1h-1zM424 320h1v1h-1zM424 315h1v1h-1zM424 321h3v1h-1v1h-1v-1h-1zM369 380h1v1h1v1h-1v1h-1v-1h-1v-1h1zM411 386h1v1h1v1h-1v1h-1v-1h-1v-1h1zM338 416h1v1h1v1h-1v1h-1zM375 447h1v1h1v1h-1v1h-1v-1h-1v-1h1zM348 293h1v1h1v1h-1v1h-1v-1h-1v-1h1zM375 301h1v1h1v1h-1v1h-1zM377 304h1v3h-1v-1h-1v-1h1zM379 301h1v1h1v1h-3v-1h1zM374 314h1v1h1v1h-1v1h-1zM350 314h1v1h-1zM350 319h1v1h-1zM351 315h1v1h-1zM351 318h1v1h-1zM352 316h1v1h-1zM352 317h1v1h-1zM353 317h1v1h-1zM353 316h1v1h-1zM354 318h1v1h-1zM354 315h1v1h-1zM355 319h1v1h-1zM355 314h1v1h-1zM409 301h1v1h1v1h-3v-1h1zM401 318h1v1h1v1h-1v1h-1v-1h-1v-1h1zM414 312h1v1h1v1h-1v1h-1v-1h-1v-1h1zM419 315h1v1h1v1h-3v-1h1zM381 321h1v1h1v1h-1v1h-1v-1h-1v-1h1zM418 321h3v1h-1v1h-1v-1h-1zM382 290h1v1h1v1h-1v1h-1v-1h-1v-1h1zM389 295h1v1h1v1h-1v1h-1v-1h-1v-1h1zM419 294h1v1h1v1h-1v1h-1v-1h-1v-1h1zM392 344h1v1h1v1h-1v1h-1zM394 348h1v1h1v1h-1v1h-1zM375 353h1v1h1v1h-3v-1h1zM387 356h1v1h1v1h-1v1h-1v-1h-1v-1h1z"/><path fill="#ffff00" d="M442 134h1v1h1v1h-1v1h-1v-1h-1v-1h1zM285 191h1v1h1v1h-3v-1h1zM427 319h1v1h1v1h-3v-1h1zM425 329h1v1h1v1h-1v1h-1zM424 330h1v1h1v1h-1v1h-1zM361 423h1v1h1v1h-1v1h-1zM380 401h3v1h-1v1h-1v-1h-1zM364 277h1v1h1v1h-1v1h-1v-1h-1v-1h1zM341 299h1v1h-1zM341 304h1v1h-1zM342 300h1v1h-1zM342 303h1v1h-1zM343 301h1v1h-1zM343 302h1v1h-1zM344 302h1v1h-1zM344 301h1v1h-1zM345 303h1v1h-1zM345 300h1v1h-1zM346 304h1v1h-1zM346 299h1v1h-1zM386 308h1v1h1v1h-1v1h-1zM388 282h1v1h1v1h-1v1h-1z"/><path fill="#d2ff00" d="M417 218h1v1h-1zM417 223h1v1h-1zM418 219h1v1h-1zM418 222h1v1h-1zM419 220h1v1h-1zM419 221h1v1h-1zM420 221h1v1h-1zM420 220h1v1h-1zM421 222h1v1h-1zM421 219h1v1h-1zM422 223h1v1h-1zM422 218h1v1h-1z"/><path fill="#ffb400" d="M350 339h1v1h-1zM350 344h1v1h-1zM351 340h1v1h-1zM351 343h1v1h-1zM352 341h1v1h-1zM352 342h1v1h-1zM353 342h1v1h-1zM353 341h1v1h-1zM354 343h1v1h-1zM354 340h1v1h-1zM355 344h1v1h-1zM355 339h1v1h-1zM389 388h1v3h-1v-1h-1v-1h1z"/><path fill="#ff4000" d="M431 147h1v1h-1zM431 152h1v1h-1zM432 148h1v1h-1zM432 151h1v1h-1zM433 149h1v1h-1zM433 150h1v1h-1zM434 150h1v1h-1zM434 149h1v1h-1zM435 151h1v1h-1zM435 148h1v1h-1zM436 152h1v1h-1zM436 147h1v1h-1zM463 249h1v1h1v1h-1v1h-1zM336 237h1v1h-1zM336 242h1v1h-1zM337 238h1v1h-1zM337 241h1v1h-1zM338 239h1v1h-1zM338 240h1v1h-1zM339 240h1v1h-1zM339 239h1v1h-1zM340 241h1v1h-1zM340 238h1v1h-1zM341 242h1v1h-1zM341 237h1v1h-1zM371 254h1v1h-1zM371 259h1v1h-1zM372 255h1v1h-1zM372 258h1v1h-1zM373 256h1v1h-1zM373 257h1v1h-1zM374 257h1v1h-1zM374 256h1v1h-1zM375 258h1v1h-1zM375 255h1v1h-1zM376 259h1v1h-1zM376 254h1v1h-1zM414 375h1v3h-1v-1h-1v-1h1zM364 409h1v1h-1zM364 414h1v1h-1zM365 410h1v1h-1zM365 413h1v1h-1zM366 411h1v1h-1zM366 412h1v1h-1zM367 412h1v1h-1zM367 411h1v1h-1zM368 413h1v1h-1zM368 410h1v1h-1zM369 414h1v1h-1zM369 409h1v1h-1zM332 450h1v1h-1zM332 455h1v1h-1zM333 451h1v1h-1zM333 454h1v1h-1zM334 452h1v1h-1zM334 453h1v1h-1zM335 453h1v1h-1zM335 452h1v1h-1zM336 454h1v1h-1zM336 451h1v1h-1zM337 455h1v1h-1zM337 450h1v1h-1zM326 434h1v1h-1zM326 439h1v1h-1zM327 435h1v1h-1zM327 438h1v1h-1zM328 436h1v1h-1zM328 437h1v1h-1zM329 437h1v1h-1zM329 436h1v1h-1zM330 438h1v1h-1zM330 435h1v1h-1zM331 439h1v1h-1zM331 434h1v1h-1zM378 298h1v1h1v1h-1v1h-1z"/><path fill="#0000ff" d="M363 265h1v1h1v1h-1v1h-1zM430 301h1v1h-1zM430 306h1v1h-1zM431 302h1v1h-1zM431 305h1v1h-1zM432 303h1v1h-1zM432 304h1v1h-1zM433 304h1v1h-1zM433 303h1v1h-1zM434 305h1v1h-1zM434 302h1v1h-1zM435 306h1v1h-1zM435 301h1v1h-1zM422 329h3v1h-1v1h-1v-1h-1zM422 329h3v1h-1v1h-1v-1h-1zM387 334h3v1h-1v1h-1v-1h-1zM375 359h1v1h1v1h-3v-1h1zM339 414h1v3h-1v-1h-1v-1h1zM352 279h3v1h-1v1h-1v-1h-1zM370 272h1v1h1v1h-1v1h-1v-1h-1v-1h1zM371 295h1v1h1v1h-1v1h-1v-1h-1v-1h1zM375 295h1v1h1v1h-1v1h-1zM384 305h1v1h1v1h-1v1h-1v-1h-1v-1h1zM399 308h1v1h1v1h-1v1h-1v-1h-1v-1h1zM404 314h1v1h1v1h-1v1h-1zM385 317h1v1h1v1h-1v1h-1v-1h-1v-1h1zM404 323h3v1h-1v1h-1v-1h-1zM387 292h3v1h-1v1h-1v-1h-1zM379 348h3v1h-1v1h-1v-1h-1zM374 359h3v1h-1v1h-1v-1h-1z"/><path fill="#5a00c8" d="M389 198h1v1h-1zM389 203h1v1h-1zM390 199h1v1h-1zM390 202h1v1h-1zM391 200h1v1h-1zM391 201h1v1h-1zM392 201h1v1h-1zM392 200h1v1h-1zM393 202h1v1h-1zM393 199h1v1h-1zM394 203h1v1h-1zM394 198h1v1h-1zM471 258h1v1h-1zM471 263h1v1h-1zM472 259h1v1h-1zM472 262h1v1h-1zM473 260h1v1h-1zM473 261h1v1h-1zM474 261h1v1h-1zM474 260h1v1h-1zM475 262h1v1h-1zM475 259h1v1h-1zM476 263h1v1h-1zM476 258h1v1h-1zM316 437h1v3h-1v-1h-1v-1h1zM389 332h3v1h-1v1h-1v-1h-1zM384 361h1v1h-1zM384 366h1v1h-1zM385 362h1v1h-1zM385 365h1v1h-1zM386 363h1v1h-1zM386 364h1v1h-1zM387 364h1v1h-1zM387 363h1v1h-1zM388 365h1v1h-1zM388 362h1v1h-1zM389 366h1v1h-1zM389 361h1v1h-1zM394 311h1v3h-1v-1h-1v-1h1zM416 321h1v1h1v1h-1v1h-1v-1h-1v-1h1z"/><path fill="#ff0000" d="M387 108h1v1h-1zM387 113h1v1h-1zM388 109h1v1h-1zM388 112h1v1h-1zM389 110h1v1h-1zM389 111h1v1h-1zM390 111h1v1h-1zM390 110h1v1h-1zM391 112h1v1h-1zM391 109h1v1h-1zM392 113h1v1h-1zM392 108h1v1h-1zM388 137h1v1h-1zM388 142h1v1h-1zM389 138h1v1h-1zM389 141h1v1h-1zM390 139h1v1h-1zM390 140h1v1h-1zM391 140h1v1h-1zM391 139h1v1h-1zM392 141h1v1h-1zM392 138h1v1h-1zM393 142h1v1h-1zM393 137h1v1h-1zM509 86h3v1h-1v1h-1v-1h-1zM328 194h1v1h1v1h-1v1h-1v-1h-1v-1h1zM307 234h3v1h-1v1h-1v-1h-1zM321 267h1v1h1v1h-1v1h-1v-1h-1v-1h1zM313 273h1v1h1v1h-1v1h-1zM287 280h1v3h-1v-1h-1v-1h1zM440 198h1v1h1v1h-3v-1h1zM425 280h1v3h-1v-1h-1v-1h1zM357 255h1v1h1v1h-1v1h-1v-1h-1v-1h1zM385 254h1v3h-1v-1h-1v-1h1zM397 254h1v3h-1v-1h-1v-1h1zM340 267h3v1h-1v1h-1v-1h-1zM330 278h1v1h-1zM330 283h1v1h-1zM331 279h1v1h-1zM331 282h1v1h-1zM332 280h1v1h-1zM332 281h1v1h-1zM333 281h1v1h-1zM333 280h1v1h-1zM334 282h1v1h-1zM334 279h1v1h-1zM335 283h1v1h-1zM335 278h1v1h-1zM317 419h1v1h-1zM317 424h1v1h-1zM318 420h1v1h-1zM318 423h1v1h-1zM319 421h1v1h-1zM319 422h1v1h-1zM320 422h1v1h-1zM320 421h1v1h-1zM321 423h1v1h-1zM321 420h1v1h-1zM322 424h1v1h-1zM322 419h1v1h-1zM319 419h1v1h-1zM319 424h1v1h-1zM320 420h1v1h-1zM320 423h1v1h-1zM321 421h1v1h-1zM321 422h1v1h-1zM322 422h1v1h-1zM322 421h1v1h-1zM323 423h1v1h-1zM323 420h1v1h-1zM324 424h1v1h-1zM324 419h1v1h-1zM426 311h1v1h1v1h-1v1h-1v-1h-1v-1h1zM432 308h1v1h1v1h-3v-1h1zM425 334h1v3h-1v-1h-1v-1h1zM369 330h1v1h-1zM369 335h1v1h-1zM370 331h1v1h-1zM370 334h1v1h-1zM371 332h1v1h-1zM371 333h1v1h-1zM372 333h1v1h-1zM372 332h1v1h-1zM373 334h1v1h-1zM373 331h1v1h-1zM374 335h1v1h-1zM374 330h1v1h-1zM425 333h1v1h1v1h-3v-1h1zM411 345h1v1h1v1h-1v1h-1v-1h-1v-1h1zM390 359h1v1h1v1h-1v1h-1v-1h-1v-1h1zM383 381h1v1h-1zM383 386h1v1h-1zM384 382h1v1h-1zM384 385h1v1h-1zM385 383h1v1h-1zM385 384h1v1h-1zM386 384h1v1h-1zM386 383h1v1h-1zM387 385h1v1h-1zM387 382h1v1h-1zM388 386h1v1h-1zM388 381h1v1h-1zM397 389h1v1h-1zM397 394h1v1h-1zM398 390h1v1h-1zM398 393h1v1h-1zM399 391h1v1h-1zM399 392h1v1h-1zM400 392h1v1h-1zM400 391h1v1h-1zM401 393h1v1h-1zM401 390h1v1h-1zM402 394h1v1h-1zM402 389h1v1h-1zM349 412h1v1h-1zM349 417h1v1h-1zM350 413h1v1h-1zM350 416h1v1h-1zM351 414h1v1h-1zM351 415h1v1h-1zM352 415h1v1h-1zM352 414h1v1h-1zM353 416h1v1h-1zM353 413h1v1h-1zM354 417h1v1h-1zM354 412h1v1h-1zM347 424h1v1h-1zM347 429h1v1h-1zM348 425h1v1h-1zM348 428h1v1h-1zM349 426h1v1h-1zM349 427h1v1h-1zM350 427h1v1h-1zM350 426h1v1h-1zM351 428h1v1h-1zM351 425h1v1h-1zM352 429h1v1h-1zM352 424h1v1h-1zM397 394h1v1h1v1h-1v1h-1v-1h-1v-1h1zM402 394h1v1h1v1h-1v1h-1zM400 419h1v1h-1zM400 424h1v1h-1zM401 420h1v1h-1zM401 423h1v1h-1zM402 421h1v1h-1zM402 422h1v1h-1zM403 422h1v1h-1zM403 421h1v1h-1zM404 423h1v1h-1zM404 420h1v1h-1zM405 424h1v1h-1zM405 419h1v1h-1zM365 269h1v1h1v1h-1v1h-1zM365 273h1v1h1v1h-3v-1h1zM358 282h1v1h-1zM358 287h1v1h-1zM359 283h1v1h-1zM359 286h1v1h-1zM360 284h1v1h-1zM360 285h1v1h-1zM361 285h1v1h-1zM361 284h1v1h-1zM362 286h1v1h-1zM362 283h1v1h-1zM363 287h1v1h-1zM363 282h1v1h-1zM343 294h1v1h-1zM343 299h1v1h-1zM344 295h1v1h-1zM344 298h1v1h-1zM345 296h1v1h-1zM345 297h1v1h-1zM346 297h1v1h-1zM346 296h1v1h-1zM347 298h1v1h-1zM347 295h1v1h-1zM348 299h1v1h-1zM348 294h1v1h-1zM360 300h1v1h1v1h-1v1h-1v-1h-1v-1h1zM367 311h1v1h1v1h-1v1h-1v-1h-1v-1h1zM387 300h1v3h-1v-1h-1v-1h1zM397 311h1v1h1v1h-1v1h-1v-1h-1v-1h1zM404 311h1v1h-1zM404 316h1v1h-1zM405 312h1v1h-1zM405 315h1v1h-1zM406 313h1v1h-1zM406 314h1v1h-1zM407 314h1v1h-1zM407 313h1v1h-1zM408 315h1v1h-1zM408 312h1v1h-1zM409 316h1v1h-1zM409 311h1v1h-1zM400 315h3v1h-1v1h-1v-1h-1zM394 323h1v3h-1v-1h-1v-1h1zM389 275h1v1h-1zM389 280h1v1h-1zM390 276h1v1h-1zM390 279h1v1h-1zM391 277h1v1h-1zM391 278h1v1h-1zM392 278h1v1h-1zM392 277h1v1h-1zM393 279h1v1h-1zM393 276h1v1h-1zM394 280h1v1h-1zM394 275h1v1h-1zM389 291h1v1h-1zM389 296h1v1h-1zM390 292h1v1h-1zM390 295h1v1h-1zM391 293h1v1h-1zM391 294h1v1h-1zM392 294h1v1h-1zM392 293h1v1h-1zM393 295h1v1h-1zM393 292h1v1h-1zM394 296h1v1h-1zM394 291h1v1h-1zM382 297h3v1h-1v1h-1v-1h-1zM385 298h1v1h1v1h-1v1h-1v-1h-1v-1h1zM383 297h1v1h-1zM383 302h1v1h-1zM384 298h1v1h-1zM384 301h1v1h-1zM385 299h1v1h-1zM385 300h1v1h-1zM386 300h1v1h-1zM386 299h1v1h-1zM387 301h1v1h-1zM387 298h1v1h-1zM388 302h1v1h-1zM388 297h1v1h-1zM366 337h1v1h-1zM366 342h1v1h-1zM367 338h1v1h-1zM367 341h1v1h-1zM368 339h1v1h-1zM368 340h1v1h-1zM369 340h1v1h-1zM369 339h1v1h-1zM370 341h1v1h-1zM370 338h1v1h-1zM371 342h1v1h-1zM371 337h1v1h-1zM372 336h1v1h-1zM372 341h1v1h-1zM373 337h1v1h-1zM373 340h1v1h-1zM374 338h1v1h-1zM374 339h1v1h-1zM375 339h1v1h-1zM375 338h1v1h-1zM376 340h1v1h-1zM376 337h1v1h-1zM377 341h1v1h-1zM377 336h1v1h-1zM383 335h1v1h1v1h-1v1h-1zM390 358h1v1h1v1h-1v1h-1z"/><path fill="#000000" d="M520 94h1v1h-1zM520 99h1v1h-1zM521 95h1v1h-1zM521 98h1v1h-1zM522 96h1v1h-1zM522 97h1v1h-1zM523 97h1v1h-1zM523 96h1v1h-1zM524 98h1v1h-1zM524 95h1v1h-1zM525 99h1v1h-1zM525 94h1v1h-1zM317 256h1v1h-1zM317 261h1v1h-1zM318 257h1v1h-1zM318 260h1v1h-1zM319 258h1v1h-1zM319 259h1v1h-1zM320 259h1v1h-1zM320 258h1v1h-1zM321 260h1v1h-1zM321 257h1v1h-1zM322 261h1v1h-1zM322 256h1v1h-1zM367 215h1v1h-1zM367 220h1v1h-1zM368 216h1v1h-1zM368 219h1v1h-1zM369 217h1v1h-1zM369 218h1v1h-1zM370 218h1v1h-1zM370 217h1v1h-1zM371 219h1v1h-1zM371 216h1v1h-1zM372 220h1v1h-1zM372 215h1v1h-1zM609 183h1v1h-1zM609 188h1v1h-1zM610 184h1v1h-1zM610 187h1v1h-1zM611 185h1v1h-1zM611 186h1v1h-1zM612 186h1v1h-1zM612 185h1v1h-1zM613 187h1v1h-1zM613 184h1v1h-1zM614 188h1v1h-1zM614 183h1v1h-1zM480 315h1v1h-1zM480 320h1v1h-1zM481 316h1v1h-1zM481 319h1v1h-1zM482 317h1v1h-1zM482 318h1v1h-1zM483 318h1v1h-1zM483 317h1v1h-1zM484 319h1v1h-1zM484 316h1v1h-1zM485 320h1v1h-1zM485 315h1v1h-1zM401 252h1v1h1v1h-1v1h-1v-1h-1v-1h1zM309 285h1v1h1v1h-1v1h-1v-1h-1v-1h1zM328 327h3v1h-1v1h-1v-1h-1zM292 360h1v1h-1zM292 365h1v1h-1zM293 361h1v1h-1zM293 364h1v1h-1zM294 362h1v1h-1zM294 363h1v1h-1zM295 363h1v1h-1zM295 362h1v1h-1zM296 364h1v1h-1zM296 361h1v1h-1zM297 365h1v1h-1zM297 360h1v1h-1zM419 307h1v1h-1zM419 312h1v1h-1zM420 308h1v1h-1zM420 311h1v1h-1zM421 309h1v1h-1zM421 310h1v1h-1zM422 310h1v1h-1zM422 309h1v1h-1zM423 311h1v1h-1zM423 308h1v1h-1zM424 312h1v1h-1zM424 307h1v1h-1zM426 309h1v1h-1zM426 314h1v1h-1zM427 310h1v1h-1zM427 313h1v1h-1zM428 311h1v1h-1zM428 312h1v1h-1zM429 312h1v1h-1zM429 311h1v1h-1zM430 313h1v1h-1zM430 310h1v1h-1zM431 314h1v1h-1zM431 309h1v1h-1zM429 313h1v1h1v1h-1v1h-1zM434 304h1v1h-1zM434 309h1v1h-1zM435 305h1v1h-1zM435 308h1v1h-1zM436 306h1v1h-1zM436 307h1v1h-1zM437 307h1v1h-1zM437 306h1v1h-1zM438 308h1v1h-1zM438 305h1v1h-1zM439 309h1v1h-1zM439 304h1v1h-1zM428 375h1v1h1v1h-1v1h-1v-1h-1v-1h1zM448 382h1v1h1v1h-3v-1h1zM446 389h1v1h-1zM446 394h1v1h-1zM447 390h1v1h-1zM447 393h1v1h-1zM448 391h1v1h-1zM448 392h1v1h-1zM449 392h1v1h-1zM449 391h1v1h-1zM450 393h1v1h-1zM450 390h1v1h-1zM451 394h1v1h-1zM451 389h1v1h-1zM330 326h1v1h1v1h-3v-1h1zM420 320h1v1h1v1h-3v-1h1zM415 329h1v1h-1zM415 334h1v1h-1zM416 330h1v1h-1zM416 333h1v1h-1zM417 331h1v1h-1zM417 332h1v1h-1zM418 332h1v1h-1zM418 331h1v1h-1zM419 333h1v1h-1zM419 330h1v1h-1zM420 334h1v1h-1zM420 329h1v1h-1zM403 350h1v3h-1v-1h-1v-1h1zM376 387h3v1h-1v1h-1v-1h-1zM390 366h1v1h-1zM390 371h1v1h-1zM391 367h1v1h-1zM391 370h1v1h-1zM392 368h1v1h-1zM392 369h1v1h-1zM393 369h1v1h-1zM393 368h1v1h-1zM394 370h1v1h-1zM394 367h1v1h-1zM395 371h1v1h-1zM395 366h1v1h-1zM428 375h1v1h1v1h-1v1h-1v-1h-1v-1h1zM401 407h1v1h1v1h-1v1h-1zM503 411h1v1h1v1h-3v-1h1zM390 440h1v1h-1zM390 445h1v1h-1zM391 441h1v1h-1zM391 444h1v1h-1zM392 442h1v1h-1zM392 443h1v1h-1zM393 443h1v1h-1zM393 442h1v1h-1zM394 444h1v1h-1zM394 441h1v1h-1zM395 445h1v1h-1zM395 440h1v1h-1zM377 280h1v3h-1v-1h-1v-1h1zM349 284h1v3h-1v-1h-1v-1h1zM355 290h1v1h-1zM355 295h1v1h-1zM356 291h1v1h-1zM356 294h1v1h-1zM357 292h1v1h-1zM357 293h1v1h-1zM358 293h1v1h-1zM358 292h1v1h-1zM359 294h1v1h-1zM359 291h1v1h-1zM360 295h1v1h-1zM360 290h1v1h-1zM376 288h1v1h-1zM376 293h1v1h-1zM377 289h1v1h-1zM377 292h1v1h-1zM378 290h1v1h-1zM378 291h1v1h-1zM379 291h1v1h-1zM379 290h1v1h-1zM380 292h1v1h-1zM380 289h1v1h-1zM381 293h1v1h-1zM381 288h1v1h-1zM365 293h1v1h-1zM365 298h1v1h-1zM366 294h1v1h-1zM366 297h1v1h-1zM367 295h1v1h-1zM367 296h1v1h-1zM368 296h1v1h-1zM368 295h1v1h-1zM369 297h1v1h-1zM369 294h1v1h-1zM370 298h1v1h-1zM370 293h1v1h-1zM339 297h1v1h-1zM339 302h1v1h-1zM340 298h1v1h-1zM340 301h1v1h-1zM341 299h1v1h-1zM341 300h1v1h-1zM342 300h1v1h-1zM342 299h1v1h-1zM343 301h1v1h-1zM343 298h1v1h-1zM344 302h1v1h-1zM344 297h1v1h-1zM367 299h1v1h1v1h-1v1h-1v-1h-1v-1h1zM369 299h1v1h-1zM369 304h1v1h-1zM370 300h1v1h-1zM370 303h1v1h-1zM371 301h1v1h-1zM371 302h1v1h-1zM372 302h1v1h-1zM372 301h1v1h-1zM373 303h1v1h-1zM373 300h1v1h-1zM374 304h1v1h-1zM374 299h1v1h-1zM370 299h1v3h-1v-1h-1v-1h1zM384 299h1v1h1v1h-1v1h-1v-1h-1v-1h1zM403 300h3v1h-1v1h-1v-1h-1zM407 299h1v1h1v1h-1v1h-1zM382 309h3v1h-1v1h-1v-1h-1zM385 309h1v1h-1zM385 314h1v1h-1zM386 310h1v1h-1zM386 313h1v1h-1zM387 311h1v1h-1zM387 312h1v1h-1zM388 312h1v1h-1zM388 311h1v1h-1zM389 313h1v1h-1zM389 310h1v1h-1zM390 314h1v1h-1zM390 309h1v1h-1zM386 318h1v1h1v1h-3v-1h1zM414 311h1v1h-1zM414 316h1v1h-1zM415 312h1v1h-1zM415 315h1v1h-1zM416 313h1v1h-1zM416 314h1v1h-1zM417 314h1v1h-1zM417 313h1v1h-1zM418 315h1v1h-1zM418 312h1v1h-1zM419 316h1v1h-1zM419 311h1v1h-1zM419 306h1v1h1v1h-1v1h-1v-1h-1v-1h1zM412 320h1v1h1v1h-1v1h-1v-1h-1v-1h1zM416 328h1v1h1v1h-1v1h-1v-1h-1v-1h1zM397 282h3v1h-1v1h-1v-1h-1zM392 284h1v1h1v1h-1v1h-1zM381 288h1v3h-1v-1h-1v-1h1zM400 294h1v1h1v1h-1v1h-1zM403 296h1v3h-1v-1h-1v-1h1zM406 297h3v1h-1v1h-1v-1h-1zM401 296h1v1h-1zM401 301h1v1h-1zM402 297h1v1h-1zM402 300h1v1h-1zM403 298h1v1h-1zM403 299h1v1h-1zM404 299h1v1h-1zM404 298h1v1h-1zM405 300h1v1h-1zM405 297h1v1h-1zM406 301h1v1h-1zM406 296h1v1h-1zM404 297h1v1h-1zM404 302h1v1h-1zM405 298h1v1h-1zM405 301h1v1h-1zM406 299h1v1h-1zM406 300h1v1h-1zM407 300h1v1h-1zM407 299h1v1h-1zM408 301h1v1h-1zM408 298h1v1h-1zM409 302h1v1h-1zM409 297h1v1h-1zM389 335h1v1h1v1h-1v1h-1zM393 342h1v3h-1v-1h-1v-1h1z"/></g>
<rect x="80" y="59" width="601" height="2" fill="#000"/><rect x="80" y="539" width="601" height="1" fill="#000"/><rect x="80" y="59" width="1" height="481" fill="#000"/><rect x="680" y="59" width="1" height="481" fill="#000"/><rect x="110" y="61" width="1" height="7" fill="#000"/><rect x="110" y="532" width="1" height="7" fill="#000"/><rect x="140" y="61" width="1" height="7" fill="#000"/><rect x="140" y="532" width="1" height="7" fill="#000"/><rect x="170" y="61" width="1" height="7" fill="#000"/><rect x="170" y="532" width="1" height="7" fill="#000"/><rect x="200" y="61" width="1" height="7" fill="#000"/><rect x="200" y="532" width="1" height="7" fill="#000"/><rect x="260" y="61" width="1" height="7" fill="#000"/><rect x="260" y="532" width="1" height="7" fill="#000"/><rect x="290" y="61" width="1" height="7" fill="#000"/><rect x="290" y="532" width="1" height="7" fill="#000"/><rect x="320" y="61" width="1" height="7" fill="#000"/><rect x="320" y="532" width="1" height="7" fill="#000"/><rect x="350" y="61" width="1" height="7" fill="#000"/><rect x="350" y="532" width="1" height="7" fill="#000"/><rect x="410" y="61" width="1" height="7" fill="#000"/><rect x="410" y="532" width="1" height="7" fill="#000"/><rect x="440" y="61" width="1" height="7" fill="#000"/><rect x="440" y="532" width="1" height="7" fill="#000"/><rect x="470" y="61" width="1" height="7" fill="#000"/><rect x="470" y="532" width="1" height="7" fill="#000"/><rect x="500" y="61" width="1" height="7" fill="#000"/><rect x="500" y="532" width="1" height="7" fill="#000"/><rect x="560" y="61" width="1" height="7" fill="#000"/><rect x="560" y="532" width="1" height="7" fill="#000"/><rect x="590" y="61" width="1" height="7" fill="#000"/><rect x="590" y="532" width="1" height="7" fill="#000"/><rect x="620" y="61" width="1" height="7" fill="#000"/><rect x="620" y="532" width="1" height="7" fill="#000"/><rect x="650" y="61" width="1" height="7" fill="#000"/><rect x="650" y="532" width="1" height="7" fill="#000"/><rect x="81" y="71" width="8" height="1" fill="#000"/><rect x="671" y="71" width="9" height="1" fill="#000"/><rect x="81" y="83" width="8" height="1" fill="#000"/><rect x="671" y="83" width="9" height="1" fill="#000"/><rect x="81" y="95" width="8" height="1" fill="#000"/><rect x="671" y="95" width="9" height="1" fill="#000"/><rect x="81" y="107" width="8" height="1" fill="#000"/><rect x="671" y="107" width="9" height="1" fill="#000"/><rect x="81" y="119" width="8" height="1" fill="#000"/><rect x="671" y="119" width="9" height="1" fill="#000"/><rect x="81" y="131" width="8" height="1" fill="#000"/><rect x="671" y="131" width="9" height="1" fill="#000"/><rect x="81" y="143" width="8" height="1" fill="#000"/><rect x="671" y="143" width="9" height="1" fill="#000"/><rect x="81" y="155" width="8" height="1" fill="#000"/><rect x="671" y="155" width="9" height="1" fill="#000"/><rect x="81" y="167" width="8" height="1" fill="#000"/><rect x="671" y="167" width="9" height="1" fill="#000"/><rect x="81" y="191" width="8" height="1" fill="#000"/><rect x="671" y="191" width="9" height="1" fill="#000"/><rect x="81" y="203" width="8" height="1" fill="#000"/><rect x="671" y="203" width="9" height="1" fill="#000"/><rect x="81" y="215" width="8" height="1" fill="#000"/><rect x="671" y="215" width="9" height="1" fill="#000"/><rect x="81" y="227" width="8" height="1" fill="#000"/><rect x="671" y="227" width="9" height="1" fill="#000"/><rect x="81" y="239" width="8" height="1" fill="#000"/><rect x="671" y="239" width="9" height="1" fill="#000"/><rect x="81" y="251" width="8" height="1" fill="#000"/><rect x="671" y="251" width="9" height="1" fill="#000"/><rect x="81" y="263" width="8" height="1" fill="#000"/><rect x="671" y="263" width="9" height="1" fill="#000"/><rect x="81" y="275" width="8" height="1" fill="#000"/><rect x="671" y="275" width="9" height="1" fill="#000"/><rect x="81" y="287" width="8" height="1" fill="#000"/><rect x="671" y="287" width="9" height="1" fill="#000"/><rect x="81" y="311" width="8" height="1" fill="#000"/><rect x="671" y="311" width="9" height="1" fill="#000"/><rect x="81" y="323" width="8" height="1" fill="#000"/><rect x="671" y="323" width="9" height="1" fill="#000"/><rect x="81" y="335" width="8" height="1" fill="#000"/><rect x="671" y="335" width="9" height="1" fill="#000"/><rect x="81" y="347" width="8" height="1" fill="#000"/><rect x="671" y="347" width="9" height="1" fill="#000"/><rect x="81" y="359" width="8" height="1" fill="#000"/><rect x="671" y="359" width="9" height="1" fill="#000"/><rect x="81" y="371" width="8" height="1" fill="#000"/><rect x="671" y="371" width="9" height="1" fill="#000"/><rect x="81" y="383" width="8" height="1" fill="#000"/><rect x="671" y="383" width="9" height="1" fill="#000"/><rect x="81" y="395" width="8" height="1" fill="#000"/><rect x="671" y="395" width="9" height="1" fill="#000"/><rect x="81" y="407" width="8" height="1" fill="#000"/><rect x="671" y="407" width="9" height="1" fill="#000"/><rect x="81" y="431" width="8" height="1" fill="#000"/><rect x="671" y="431" width="9" height="1" fill="#000"/><rect x="81" y="443" width="8" height="1" fill="#000"/><rect x="671" y="443" width="9" height="1" fill="#000"/><rect x="81" y="455" width="8" height="1" fill="#000"/><rect x="671" y="455" width="9" height="1" fill="#000"/><rect x="81" y="467" width="8" height="1" fill="#000"/><rect x="671" y="467" width="9" height="1" fill="#000"/><rect x="81" y="479" width="8" height="1" fill="#000"/><rect x="671" y="479" width="9" height="1" fill="#000"/><rect x="81" y="491" width="8" height="1" fill="#000"/><rect x="671" y="491" width="9" height="1" fill="#000"/><rect x="81" y="503" width="8" height="1" fill="#000"/><rect x="671" y="503" width="9" height="1" fill="#000"/><rect x="81" y="515" width="8" height="1" fill="#000"/><rect x="671" y="515" width="9" height="1" fill="#000"/><rect x="81" y="527" width="8" height="1" fill="#000"/><rect x="671" y="527" width="9" height="1" fill="#000"/><rect x="719" y="87" width="26" height="424" fill="url(#cbg)"/>
<g font-family="'Liberation Sans', sans-serif" fill="#000" shape-rendering="auto">
<text x="76" y="67" font-size="11.5" text-anchor="end">200</text><text x="76" y="184" font-size="11.5" text-anchor="end">100</text><text x="76" y="304" font-size="11.5" text-anchor="end">0</text><text x="76" y="424" font-size="11.5" text-anchor="end" textLength="29" lengthAdjust="spacingAndGlyphs">−100</text><text x="76" y="540" font-size="11.5" text-anchor="end" textLength="29" lengthAdjust="spacingAndGlyphs">−200</text><text x="80" y="555" font-size="11.5" text-anchor="middle" textLength="29" lengthAdjust="spacingAndGlyphs">−200</text><text x="230" y="555" font-size="11.5" text-anchor="middle" textLength="29" lengthAdjust="spacingAndGlyphs">−100</text><text x="380" y="555" font-size="11.5" text-anchor="middle">0</text><text x="530" y="555" font-size="11.5" text-anchor="middle">100</text><text x="680" y="555" font-size="11.5" text-anchor="middle">200</text><text x="379.5" y="567.5" font-size="12" text-anchor="middle" textLength="101" lengthAdjust="spacingAndGlyphs">E-W location [km]</text><text x="0" y="0" font-size="12" text-anchor="middle" textLength="102" lengthAdjust="spacingAndGlyphs" transform="translate(39,300.5) rotate(-90)">N-S location [km]</text><text x="380" y="40" font-size="14.5" text-anchor="middle" textLength="257" lengthAdjust="spacingAndGlyphs">Tromsø 20120706 06:50:00-06:51:43</text><text x="380" y="52" font-size="14.5" text-anchor="middle" textLength="252" lengthAdjust="spacingAndGlyphs">RwPretec (8p) EXPERIMENTAL SKYMAP</text><text x="715.5" y="84.5" font-size="15.5" text-anchor="start" textLength="39" lengthAdjust="spacingAndGlyphs">[m/s]</text><text x="747" y="97" font-size="11.5" text-anchor="start">200</text><text x="747" y="199" font-size="11.5" text-anchor="start">100</text><text x="747" y="304" font-size="11.5" text-anchor="start">0</text><text x="747" y="409" font-size="11.5" text-anchor="start" textLength="29" lengthAdjust="spacingAndGlyphs">−100</text><text x="747" y="510" font-size="11.5" text-anchor="start" textLength="29" lengthAdjust="spacingAndGlyphs">−200</text>
</g>
</svg>
</body></html>
